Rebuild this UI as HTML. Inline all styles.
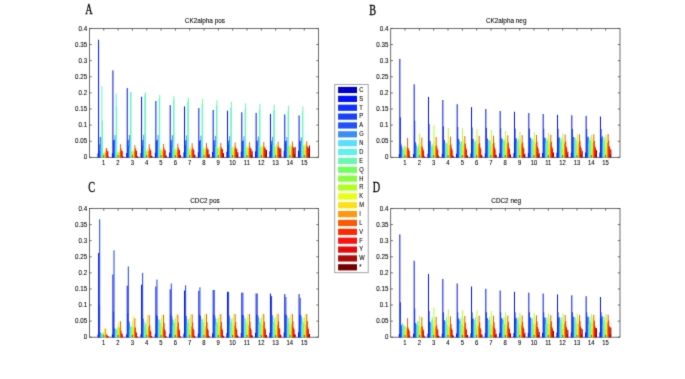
<!DOCTYPE html>
<html><head><meta charset="utf-8"><title>figure</title>
<style>
html,body{margin:0;padding:0;background:#fff;}
body{width:685px;height:379px;overflow:hidden;}
svg{display:block;}
text{font-family:"Liberation Sans",sans-serif;fill:#000000;stroke:#000000;stroke-width:0.08px;}
.ser{font-family:"Liberation Serif",serif;fill:#000;stroke:#000;stroke-width:0.35px;}
</style></head><body>
<svg width="685" height="379" viewBox="0 0 685 379">
<defs>
<filter id="jp" x="0" y="0" width="685" height="379" filterUnits="userSpaceOnUse" color-interpolation-filters="sRGB">
<feConvolveMatrix in="SourceGraphic" order="3" kernelMatrix="0.01440 0.09120 0.01440 0.09120 0.57760 0.09120 0.01440 0.09120 0.01440" divisor="1" edgeMode="duplicate" preserveAlpha="true" result="S0"/>
<feGaussianBlur in="S0" stdDeviation="0.9" result="B"/>
<feColorMatrix in="S0" type="matrix" values="0.299 0.587 0.114 0 0  0.299 0.587 0.114 0 0  0.299 0.587 0.114 0 0  0 0 0 1 0" result="Yg"/>
<feColorMatrix in="B" type="matrix" values="0.299 0.587 0.114 0 0  0.299 0.587 0.114 0 0  0.299 0.587 0.114 0 0  0 0 0 1 0" result="YB"/>
<feComposite in="B" in2="Yg" operator="arithmetic" k1="0" k2="0.5" k3="0.5" k4="0" result="T"/>
<feComposite in="T" in2="YB" operator="arithmetic" k1="0" k2="2" k3="-1" k4="0"/>
</filter>
</defs>
<g filter="url(#jp)">
<rect x="0" y="0" width="685" height="379" fill="#ffffff"/>

<g id="panelA">
<rect x="89.45" y="28.45" width="229.15" height="128.90" fill="none" stroke="#484848" stroke-width="0.8"/>
<rect x="97.54" y="153.48" width="1.000" height="3.97" fill="#0000C4"/>
<rect x="98.09" y="39.73" width="1.000" height="117.72" fill="#0010FF"/>
<rect x="98.63" y="144.46" width="1.000" height="12.99" fill="#1030FF"/>
<rect x="99.18" y="150.91" width="1.000" height="6.54" fill="#1840FF"/>
<rect x="99.73" y="137.05" width="1.000" height="20.40" fill="#2050FF"/>
<rect x="100.27" y="137.05" width="1.000" height="20.40" fill="#3C8CF8"/>
<rect x="100.82" y="147.68" width="1.000" height="9.77" fill="#58E0FF"/>
<rect x="101.36" y="86.20" width="1.000" height="71.25" fill="#60F0E8"/>
<rect x="101.91" y="120.29" width="1.000" height="37.16" fill="#68F8B0"/>
<rect x="102.45" y="153.48" width="1.000" height="3.97" fill="#70FF60"/>
<rect x="103.00" y="153.48" width="1.000" height="3.97" fill="#88FF40"/>
<rect x="103.54" y="152.84" width="1.000" height="4.61" fill="#B0FF20"/>
<rect x="104.09" y="151.55" width="1.000" height="5.90" fill="#E8FF10"/>
<rect x="104.64" y="152.84" width="1.000" height="4.61" fill="#FFE010"/>
<rect x="105.18" y="152.52" width="1.000" height="4.93" fill="#FF9810"/>
<rect x="105.73" y="148.00" width="1.000" height="9.45" fill="#FF5800"/>
<rect x="106.27" y="148.65" width="1.000" height="8.80" fill="#FF2800"/>
<rect x="106.82" y="151.23" width="1.000" height="6.22" fill="#FF1010"/>
<rect x="107.36" y="151.23" width="1.000" height="6.22" fill="#E80808"/>
<rect x="107.91" y="156.38" width="1.000" height="1.07" fill="#B00808"/>
<rect x="111.86" y="153.30" width="1.000" height="4.15" fill="#0000C4"/>
<rect x="112.41" y="70.34" width="1.000" height="87.11" fill="#0010FF"/>
<rect x="112.96" y="140.27" width="1.000" height="17.18" fill="#1030FF"/>
<rect x="113.50" y="146.07" width="1.000" height="11.38" fill="#1840FF"/>
<rect x="114.05" y="139.63" width="1.000" height="17.82" fill="#2050FF"/>
<rect x="114.59" y="135.11" width="1.000" height="22.34" fill="#3C8CF8"/>
<rect x="115.14" y="147.45" width="1.000" height="10.00" fill="#58E0FF"/>
<rect x="115.68" y="93.54" width="1.000" height="63.91" fill="#60F0E8"/>
<rect x="116.23" y="106.76" width="1.000" height="50.69" fill="#68F8B0"/>
<rect x="116.78" y="152.68" width="1.000" height="4.77" fill="#70FF60"/>
<rect x="117.32" y="153.16" width="1.000" height="4.29" fill="#88FF40"/>
<rect x="117.87" y="152.03" width="1.000" height="5.42" fill="#B0FF20"/>
<rect x="118.41" y="150.74" width="1.000" height="6.71" fill="#E8FF10"/>
<rect x="118.96" y="152.65" width="1.000" height="4.80" fill="#FFE010"/>
<rect x="119.50" y="152.06" width="1.000" height="5.39" fill="#FF9810"/>
<rect x="120.05" y="144.14" width="1.000" height="13.31" fill="#FF5800"/>
<rect x="120.59" y="148.47" width="1.000" height="8.98" fill="#FF2800"/>
<rect x="121.14" y="150.97" width="1.000" height="6.48" fill="#FF1010"/>
<rect x="121.69" y="150.97" width="1.000" height="6.48" fill="#E80808"/>
<rect x="122.23" y="156.22" width="1.000" height="1.23" fill="#B00808"/>
<rect x="122.78" y="156.89" width="1.000" height="0.56" fill="#780000"/>
<rect x="126.19" y="153.11" width="1.000" height="4.34" fill="#0000C4"/>
<rect x="126.73" y="88.07" width="1.000" height="69.38" fill="#0010FF"/>
<rect x="127.28" y="140.35" width="1.000" height="17.10" fill="#1030FF"/>
<rect x="127.82" y="145.90" width="1.000" height="11.55" fill="#1840FF"/>
<rect x="128.37" y="139.70" width="1.000" height="17.75" fill="#2050FF"/>
<rect x="128.91" y="134.95" width="1.000" height="22.50" fill="#3C8CF8"/>
<rect x="129.46" y="147.22" width="1.000" height="10.23" fill="#58E0FF"/>
<rect x="130.01" y="92.03" width="1.000" height="65.42" fill="#60F0E8"/>
<rect x="130.55" y="92.03" width="1.000" height="65.42" fill="#68F8B0"/>
<rect x="131.10" y="151.87" width="1.000" height="5.58" fill="#70FF60"/>
<rect x="131.64" y="152.84" width="1.000" height="4.61" fill="#88FF40"/>
<rect x="132.19" y="151.23" width="1.000" height="6.22" fill="#B0FF20"/>
<rect x="132.73" y="149.94" width="1.000" height="7.51" fill="#E8FF10"/>
<rect x="133.28" y="152.47" width="1.000" height="4.98" fill="#FFE010"/>
<rect x="133.83" y="151.60" width="1.000" height="5.85" fill="#FF9810"/>
<rect x="134.37" y="145.10" width="1.000" height="12.35" fill="#FF5800"/>
<rect x="134.92" y="148.28" width="1.000" height="9.17" fill="#FF2800"/>
<rect x="135.46" y="150.72" width="1.000" height="6.73" fill="#FF1010"/>
<rect x="136.01" y="150.72" width="1.000" height="6.73" fill="#E80808"/>
<rect x="136.55" y="156.06" width="1.000" height="1.39" fill="#B00808"/>
<rect x="137.10" y="156.43" width="1.000" height="1.02" fill="#780000"/>
<rect x="140.51" y="152.93" width="1.000" height="4.52" fill="#0000C4"/>
<rect x="141.05" y="96.77" width="1.000" height="60.68" fill="#0010FF"/>
<rect x="141.60" y="140.42" width="1.000" height="17.03" fill="#1030FF"/>
<rect x="142.15" y="145.72" width="1.000" height="11.73" fill="#1840FF"/>
<rect x="142.69" y="139.77" width="1.000" height="17.68" fill="#2050FF"/>
<rect x="143.24" y="134.79" width="1.000" height="22.66" fill="#3C8CF8"/>
<rect x="143.78" y="146.99" width="1.000" height="10.46" fill="#58E0FF"/>
<rect x="144.33" y="94.67" width="1.000" height="62.78" fill="#60F0E8"/>
<rect x="144.87" y="92.03" width="1.000" height="65.42" fill="#68F8B0"/>
<rect x="145.42" y="151.07" width="1.000" height="6.38" fill="#70FF60"/>
<rect x="145.96" y="152.52" width="1.000" height="4.93" fill="#88FF40"/>
<rect x="146.51" y="150.42" width="1.000" height="7.03" fill="#B0FF20"/>
<rect x="147.06" y="149.13" width="1.000" height="8.32" fill="#E8FF10"/>
<rect x="147.60" y="152.29" width="1.000" height="5.16" fill="#FFE010"/>
<rect x="148.15" y="151.14" width="1.000" height="6.31" fill="#FF9810"/>
<rect x="148.69" y="144.14" width="1.000" height="13.31" fill="#FF5800"/>
<rect x="149.24" y="148.10" width="1.000" height="9.35" fill="#FF2800"/>
<rect x="149.78" y="150.47" width="1.000" height="6.98" fill="#FF1010"/>
<rect x="150.33" y="150.47" width="1.000" height="6.98" fill="#E80808"/>
<rect x="150.88" y="155.90" width="1.000" height="1.55" fill="#B00808"/>
<rect x="151.42" y="155.97" width="1.000" height="1.48" fill="#780000"/>
<rect x="154.83" y="152.75" width="1.000" height="4.70" fill="#0000C4"/>
<rect x="155.38" y="100.96" width="1.000" height="56.49" fill="#0010FF"/>
<rect x="155.92" y="140.49" width="1.000" height="16.96" fill="#1030FF"/>
<rect x="156.47" y="145.55" width="1.000" height="11.90" fill="#1840FF"/>
<rect x="157.01" y="139.85" width="1.000" height="17.60" fill="#2050FF"/>
<rect x="157.56" y="135.01" width="1.000" height="22.44" fill="#3C8CF8"/>
<rect x="158.10" y="146.76" width="1.000" height="10.69" fill="#58E0FF"/>
<rect x="158.65" y="98.38" width="1.000" height="59.07" fill="#60F0E8"/>
<rect x="159.20" y="95.16" width="1.000" height="62.29" fill="#68F8B0"/>
<rect x="159.74" y="150.26" width="1.000" height="7.19" fill="#70FF60"/>
<rect x="160.29" y="152.19" width="1.000" height="5.26" fill="#88FF40"/>
<rect x="160.83" y="149.62" width="1.000" height="7.83" fill="#B0FF20"/>
<rect x="161.38" y="148.33" width="1.000" height="9.12" fill="#E8FF10"/>
<rect x="161.92" y="152.10" width="1.000" height="5.35" fill="#FFE010"/>
<rect x="162.47" y="150.67" width="1.000" height="6.78" fill="#FF9810"/>
<rect x="163.01" y="143.87" width="1.000" height="13.58" fill="#FF5800"/>
<rect x="163.56" y="147.91" width="1.000" height="9.54" fill="#FF2800"/>
<rect x="164.11" y="150.21" width="1.000" height="7.24" fill="#FF1010"/>
<rect x="164.65" y="150.21" width="1.000" height="7.24" fill="#E80808"/>
<rect x="165.20" y="155.74" width="1.000" height="1.71" fill="#B00808"/>
<rect x="165.74" y="155.51" width="1.000" height="1.94" fill="#780000"/>
<rect x="169.15" y="152.56" width="1.000" height="4.89" fill="#0000C4"/>
<rect x="169.70" y="105.15" width="1.000" height="52.30" fill="#0010FF"/>
<rect x="170.24" y="140.57" width="1.000" height="16.88" fill="#1030FF"/>
<rect x="170.79" y="145.38" width="1.000" height="12.07" fill="#1840FF"/>
<rect x="171.33" y="139.92" width="1.000" height="17.53" fill="#2050FF"/>
<rect x="171.88" y="135.23" width="1.000" height="22.22" fill="#3C8CF8"/>
<rect x="172.43" y="146.53" width="1.000" height="10.92" fill="#58E0FF"/>
<rect x="172.97" y="99.99" width="1.000" height="57.46" fill="#60F0E8"/>
<rect x="173.52" y="96.12" width="1.000" height="61.33" fill="#68F8B0"/>
<rect x="174.06" y="149.81" width="1.000" height="7.64" fill="#70FF60"/>
<rect x="174.61" y="152.07" width="1.000" height="5.38" fill="#88FF40"/>
<rect x="175.15" y="149.20" width="1.000" height="8.25" fill="#B0FF20"/>
<rect x="175.70" y="147.84" width="1.000" height="9.61" fill="#E8FF10"/>
<rect x="176.25" y="151.92" width="1.000" height="5.53" fill="#FFE010"/>
<rect x="176.79" y="150.21" width="1.000" height="7.24" fill="#FF9810"/>
<rect x="177.34" y="143.61" width="1.000" height="13.84" fill="#FF5800"/>
<rect x="177.88" y="147.73" width="1.000" height="9.72" fill="#FF2800"/>
<rect x="178.43" y="149.96" width="1.000" height="7.49" fill="#FF1010"/>
<rect x="178.97" y="149.96" width="1.000" height="7.49" fill="#E80808"/>
<rect x="179.52" y="155.58" width="1.000" height="1.87" fill="#B00808"/>
<rect x="180.06" y="155.05" width="1.000" height="2.40" fill="#780000"/>
<rect x="183.47" y="152.38" width="1.000" height="5.07" fill="#0000C4"/>
<rect x="184.02" y="106.43" width="1.000" height="51.02" fill="#0010FF"/>
<rect x="184.57" y="140.64" width="1.000" height="16.81" fill="#1030FF"/>
<rect x="185.11" y="145.20" width="1.000" height="12.25" fill="#1840FF"/>
<rect x="185.66" y="140.00" width="1.000" height="17.45" fill="#2050FF"/>
<rect x="186.20" y="135.45" width="1.000" height="22.00" fill="#3C8CF8"/>
<rect x="186.75" y="146.30" width="1.000" height="11.15" fill="#58E0FF"/>
<rect x="187.29" y="101.60" width="1.000" height="55.85" fill="#60F0E8"/>
<rect x="187.84" y="97.41" width="1.000" height="60.04" fill="#68F8B0"/>
<rect x="188.38" y="149.36" width="1.000" height="8.09" fill="#70FF60"/>
<rect x="188.93" y="151.94" width="1.000" height="5.51" fill="#88FF40"/>
<rect x="189.48" y="148.78" width="1.000" height="8.67" fill="#B0FF20"/>
<rect x="190.02" y="147.36" width="1.000" height="10.09" fill="#E8FF10"/>
<rect x="190.57" y="151.73" width="1.000" height="5.72" fill="#FFE010"/>
<rect x="191.11" y="149.75" width="1.000" height="7.70" fill="#FF9810"/>
<rect x="191.66" y="143.35" width="1.000" height="14.10" fill="#FF5800"/>
<rect x="192.20" y="147.54" width="1.000" height="9.91" fill="#FF2800"/>
<rect x="192.75" y="149.71" width="1.000" height="7.74" fill="#FF1010"/>
<rect x="193.30" y="149.71" width="1.000" height="7.74" fill="#E80808"/>
<rect x="193.84" y="155.42" width="1.000" height="2.03" fill="#B00808"/>
<rect x="194.39" y="154.59" width="1.000" height="2.86" fill="#780000"/>
<rect x="197.80" y="152.19" width="1.000" height="5.26" fill="#0000C4"/>
<rect x="198.34" y="108.05" width="1.000" height="49.40" fill="#0010FF"/>
<rect x="198.89" y="140.72" width="1.000" height="16.73" fill="#1030FF"/>
<rect x="199.43" y="145.03" width="1.000" height="12.42" fill="#1840FF"/>
<rect x="199.98" y="140.07" width="1.000" height="17.38" fill="#2050FF"/>
<rect x="200.52" y="135.67" width="1.000" height="21.78" fill="#3C8CF8"/>
<rect x="201.07" y="146.07" width="1.000" height="11.38" fill="#58E0FF"/>
<rect x="201.62" y="103.86" width="1.000" height="53.59" fill="#60F0E8"/>
<rect x="202.16" y="98.86" width="1.000" height="58.59" fill="#68F8B0"/>
<rect x="202.71" y="148.91" width="1.000" height="8.54" fill="#70FF60"/>
<rect x="203.25" y="151.81" width="1.000" height="5.64" fill="#88FF40"/>
<rect x="203.80" y="148.36" width="1.000" height="9.09" fill="#B0FF20"/>
<rect x="204.34" y="146.88" width="1.000" height="10.57" fill="#E8FF10"/>
<rect x="204.89" y="151.55" width="1.000" height="5.90" fill="#FFE010"/>
<rect x="205.43" y="149.29" width="1.000" height="8.16" fill="#FF9810"/>
<rect x="205.98" y="143.08" width="1.000" height="14.37" fill="#FF5800"/>
<rect x="206.53" y="147.36" width="1.000" height="10.09" fill="#FF2800"/>
<rect x="207.07" y="149.45" width="1.000" height="8.00" fill="#FF1010"/>
<rect x="207.62" y="149.45" width="1.000" height="8.00" fill="#E80808"/>
<rect x="208.16" y="155.26" width="1.000" height="2.19" fill="#B00808"/>
<rect x="208.71" y="154.13" width="1.000" height="3.32" fill="#780000"/>
<rect x="212.12" y="152.01" width="1.000" height="5.44" fill="#0000C4"/>
<rect x="212.66" y="109.98" width="1.000" height="47.47" fill="#0010FF"/>
<rect x="213.21" y="140.79" width="1.000" height="16.66" fill="#1030FF"/>
<rect x="213.75" y="144.86" width="1.000" height="12.59" fill="#1840FF"/>
<rect x="214.30" y="140.15" width="1.000" height="17.30" fill="#2050FF"/>
<rect x="214.85" y="135.89" width="1.000" height="21.56" fill="#3C8CF8"/>
<rect x="215.39" y="145.84" width="1.000" height="11.61" fill="#58E0FF"/>
<rect x="215.94" y="105.47" width="1.000" height="51.98" fill="#60F0E8"/>
<rect x="216.48" y="100.31" width="1.000" height="57.14" fill="#68F8B0"/>
<rect x="217.03" y="148.46" width="1.000" height="8.99" fill="#70FF60"/>
<rect x="217.57" y="151.68" width="1.000" height="5.77" fill="#88FF40"/>
<rect x="218.12" y="147.94" width="1.000" height="9.51" fill="#B0FF20"/>
<rect x="218.67" y="146.39" width="1.000" height="11.06" fill="#E8FF10"/>
<rect x="219.21" y="151.37" width="1.000" height="6.08" fill="#FFE010"/>
<rect x="219.76" y="148.83" width="1.000" height="8.62" fill="#FF9810"/>
<rect x="220.30" y="142.82" width="1.000" height="14.63" fill="#FF5800"/>
<rect x="220.85" y="147.18" width="1.000" height="10.27" fill="#FF2800"/>
<rect x="221.39" y="149.20" width="1.000" height="8.25" fill="#FF1010"/>
<rect x="221.94" y="149.20" width="1.000" height="8.25" fill="#E80808"/>
<rect x="222.48" y="155.09" width="1.000" height="2.36" fill="#B00808"/>
<rect x="223.03" y="153.12" width="1.000" height="4.33" fill="#780000"/>
<rect x="226.44" y="151.83" width="1.000" height="5.62" fill="#0000C4"/>
<rect x="226.99" y="110.62" width="1.000" height="46.83" fill="#0010FF"/>
<rect x="227.53" y="140.87" width="1.000" height="16.58" fill="#1030FF"/>
<rect x="228.08" y="144.68" width="1.000" height="12.77" fill="#1840FF"/>
<rect x="228.62" y="140.22" width="1.000" height="17.23" fill="#2050FF"/>
<rect x="229.17" y="136.11" width="1.000" height="21.34" fill="#3C8CF8"/>
<rect x="229.71" y="145.61" width="1.000" height="11.84" fill="#58E0FF"/>
<rect x="230.26" y="107.72" width="1.000" height="49.73" fill="#60F0E8"/>
<rect x="230.80" y="101.67" width="1.000" height="55.78" fill="#68F8B0"/>
<rect x="231.35" y="148.00" width="1.000" height="9.45" fill="#70FF60"/>
<rect x="231.90" y="151.55" width="1.000" height="5.90" fill="#88FF40"/>
<rect x="232.44" y="147.52" width="1.000" height="9.93" fill="#B0FF20"/>
<rect x="232.99" y="145.91" width="1.000" height="11.54" fill="#E8FF10"/>
<rect x="233.53" y="151.18" width="1.000" height="6.27" fill="#FFE010"/>
<rect x="234.08" y="148.37" width="1.000" height="9.08" fill="#FF9810"/>
<rect x="234.62" y="142.56" width="1.000" height="14.89" fill="#FF5800"/>
<rect x="235.17" y="146.99" width="1.000" height="10.46" fill="#FF2800"/>
<rect x="235.72" y="148.95" width="1.000" height="8.50" fill="#FF1010"/>
<rect x="236.26" y="148.95" width="1.000" height="8.50" fill="#E80808"/>
<rect x="236.81" y="154.93" width="1.000" height="2.52" fill="#B00808"/>
<rect x="237.35" y="152.11" width="1.000" height="5.34" fill="#780000"/>
<rect x="240.76" y="151.64" width="1.000" height="5.81" fill="#0000C4"/>
<rect x="241.31" y="112.23" width="1.000" height="45.22" fill="#0010FF"/>
<rect x="241.85" y="140.94" width="1.000" height="16.51" fill="#1030FF"/>
<rect x="242.40" y="144.51" width="1.000" height="12.94" fill="#1840FF"/>
<rect x="242.94" y="140.30" width="1.000" height="17.15" fill="#2050FF"/>
<rect x="243.49" y="136.33" width="1.000" height="21.12" fill="#3C8CF8"/>
<rect x="244.04" y="145.38" width="1.000" height="12.07" fill="#58E0FF"/>
<rect x="244.58" y="109.01" width="1.000" height="48.44" fill="#60F0E8"/>
<rect x="245.13" y="103.41" width="1.000" height="54.04" fill="#68F8B0"/>
<rect x="245.67" y="147.55" width="1.000" height="9.90" fill="#70FF60"/>
<rect x="246.22" y="151.42" width="1.000" height="6.03" fill="#88FF40"/>
<rect x="246.76" y="147.10" width="1.000" height="10.35" fill="#B0FF20"/>
<rect x="247.31" y="145.43" width="1.000" height="12.02" fill="#E8FF10"/>
<rect x="247.85" y="151.00" width="1.000" height="6.45" fill="#FFE010"/>
<rect x="248.40" y="147.91" width="1.000" height="9.54" fill="#FF9810"/>
<rect x="248.95" y="142.29" width="1.000" height="15.16" fill="#FF5800"/>
<rect x="249.49" y="146.81" width="1.000" height="10.64" fill="#FF2800"/>
<rect x="250.04" y="148.70" width="1.000" height="8.75" fill="#FF1010"/>
<rect x="250.58" y="148.70" width="1.000" height="8.75" fill="#E80808"/>
<rect x="251.13" y="154.77" width="1.000" height="2.68" fill="#B00808"/>
<rect x="251.67" y="151.11" width="1.000" height="6.34" fill="#780000"/>
<rect x="255.08" y="151.46" width="1.000" height="5.99" fill="#0000C4"/>
<rect x="255.63" y="112.88" width="1.000" height="44.57" fill="#0010FF"/>
<rect x="256.17" y="141.01" width="1.000" height="16.44" fill="#1030FF"/>
<rect x="256.72" y="144.34" width="1.000" height="13.11" fill="#1840FF"/>
<rect x="257.27" y="140.37" width="1.000" height="17.08" fill="#2050FF"/>
<rect x="257.81" y="136.55" width="1.000" height="20.90" fill="#3C8CF8"/>
<rect x="258.36" y="145.15" width="1.000" height="12.30" fill="#58E0FF"/>
<rect x="258.90" y="109.66" width="1.000" height="47.79" fill="#60F0E8"/>
<rect x="259.45" y="103.76" width="1.000" height="53.69" fill="#68F8B0"/>
<rect x="259.99" y="147.10" width="1.000" height="10.35" fill="#70FF60"/>
<rect x="260.54" y="151.29" width="1.000" height="6.16" fill="#88FF40"/>
<rect x="261.09" y="146.68" width="1.000" height="10.77" fill="#B0FF20"/>
<rect x="261.63" y="144.94" width="1.000" height="12.51" fill="#E8FF10"/>
<rect x="262.18" y="150.81" width="1.000" height="6.64" fill="#FFE010"/>
<rect x="262.72" y="147.45" width="1.000" height="10.00" fill="#FF9810"/>
<rect x="263.27" y="142.03" width="1.000" height="15.42" fill="#FF5800"/>
<rect x="263.81" y="146.62" width="1.000" height="10.83" fill="#FF2800"/>
<rect x="264.36" y="148.44" width="1.000" height="9.01" fill="#FF1010"/>
<rect x="264.90" y="148.44" width="1.000" height="9.01" fill="#E80808"/>
<rect x="265.45" y="154.61" width="1.000" height="2.84" fill="#B00808"/>
<rect x="266.00" y="150.10" width="1.000" height="7.35" fill="#780000"/>
<rect x="269.41" y="151.27" width="1.000" height="6.18" fill="#0000C4"/>
<rect x="269.95" y="113.85" width="1.000" height="43.60" fill="#0010FF"/>
<rect x="270.50" y="141.09" width="1.000" height="16.36" fill="#1030FF"/>
<rect x="271.04" y="144.16" width="1.000" height="13.29" fill="#1840FF"/>
<rect x="271.59" y="140.44" width="1.000" height="17.01" fill="#2050FF"/>
<rect x="272.13" y="136.77" width="1.000" height="20.68" fill="#3C8CF8"/>
<rect x="272.68" y="144.92" width="1.000" height="12.53" fill="#58E0FF"/>
<rect x="273.22" y="110.30" width="1.000" height="47.15" fill="#60F0E8"/>
<rect x="273.77" y="104.63" width="1.000" height="52.82" fill="#68F8B0"/>
<rect x="274.32" y="146.65" width="1.000" height="10.80" fill="#70FF60"/>
<rect x="274.86" y="151.16" width="1.000" height="6.29" fill="#88FF40"/>
<rect x="275.41" y="146.26" width="1.000" height="11.19" fill="#B0FF20"/>
<rect x="275.95" y="144.46" width="1.000" height="12.99" fill="#E8FF10"/>
<rect x="276.50" y="150.63" width="1.000" height="6.82" fill="#FFE010"/>
<rect x="277.04" y="146.99" width="1.000" height="10.46" fill="#FF9810"/>
<rect x="277.59" y="141.76" width="1.000" height="15.69" fill="#FF5800"/>
<rect x="278.14" y="146.44" width="1.000" height="11.01" fill="#FF2800"/>
<rect x="278.68" y="148.19" width="1.000" height="9.26" fill="#FF1010"/>
<rect x="279.23" y="148.19" width="1.000" height="9.26" fill="#E80808"/>
<rect x="279.77" y="154.45" width="1.000" height="3.00" fill="#B00808"/>
<rect x="280.32" y="148.54" width="1.000" height="8.91" fill="#780000"/>
<rect x="283.73" y="151.09" width="1.000" height="6.36" fill="#0000C4"/>
<rect x="284.27" y="114.49" width="1.000" height="42.96" fill="#0010FF"/>
<rect x="284.82" y="141.16" width="1.000" height="16.29" fill="#1030FF"/>
<rect x="285.36" y="143.99" width="1.000" height="13.46" fill="#1840FF"/>
<rect x="285.91" y="140.52" width="1.000" height="16.93" fill="#2050FF"/>
<rect x="286.46" y="136.99" width="1.000" height="20.46" fill="#3C8CF8"/>
<rect x="287.00" y="144.69" width="1.000" height="12.76" fill="#58E0FF"/>
<rect x="287.55" y="110.95" width="1.000" height="46.50" fill="#60F0E8"/>
<rect x="288.09" y="105.50" width="1.000" height="51.95" fill="#68F8B0"/>
<rect x="288.64" y="146.20" width="1.000" height="11.25" fill="#70FF60"/>
<rect x="289.18" y="151.03" width="1.000" height="6.42" fill="#88FF40"/>
<rect x="289.73" y="145.85" width="1.000" height="11.60" fill="#B0FF20"/>
<rect x="290.27" y="143.98" width="1.000" height="13.47" fill="#E8FF10"/>
<rect x="290.82" y="150.44" width="1.000" height="7.01" fill="#FFE010"/>
<rect x="291.37" y="146.53" width="1.000" height="10.92" fill="#FF9810"/>
<rect x="291.91" y="141.50" width="1.000" height="15.95" fill="#FF5800"/>
<rect x="292.46" y="146.26" width="1.000" height="11.19" fill="#FF2800"/>
<rect x="293.00" y="147.94" width="1.000" height="9.51" fill="#FF1010"/>
<rect x="293.55" y="147.94" width="1.000" height="9.51" fill="#E80808"/>
<rect x="294.09" y="154.29" width="1.000" height="3.16" fill="#B00808"/>
<rect x="294.64" y="146.98" width="1.000" height="10.47" fill="#780000"/>
<rect x="298.05" y="150.91" width="1.000" height="6.54" fill="#0000C4"/>
<rect x="298.59" y="115.46" width="1.000" height="41.99" fill="#0010FF"/>
<rect x="299.14" y="141.24" width="1.000" height="16.21" fill="#1030FF"/>
<rect x="299.69" y="143.82" width="1.000" height="13.63" fill="#1840FF"/>
<rect x="300.23" y="140.59" width="1.000" height="16.86" fill="#2050FF"/>
<rect x="300.78" y="137.21" width="1.000" height="20.24" fill="#3C8CF8"/>
<rect x="301.32" y="144.46" width="1.000" height="12.99" fill="#58E0FF"/>
<rect x="301.87" y="111.59" width="1.000" height="45.86" fill="#60F0E8"/>
<rect x="302.41" y="106.43" width="1.000" height="51.02" fill="#68F8B0"/>
<rect x="302.96" y="145.75" width="1.000" height="11.70" fill="#70FF60"/>
<rect x="303.51" y="150.91" width="1.000" height="6.54" fill="#88FF40"/>
<rect x="304.05" y="145.43" width="1.000" height="12.02" fill="#B0FF20"/>
<rect x="304.60" y="143.49" width="1.000" height="13.96" fill="#E8FF10"/>
<rect x="305.14" y="150.26" width="1.000" height="7.19" fill="#FFE010"/>
<rect x="305.69" y="146.07" width="1.000" height="11.38" fill="#FF9810"/>
<rect x="306.23" y="141.24" width="1.000" height="16.21" fill="#FF5800"/>
<rect x="306.78" y="146.07" width="1.000" height="11.38" fill="#FF2800"/>
<rect x="307.32" y="147.68" width="1.000" height="9.77" fill="#FF1010"/>
<rect x="307.87" y="147.68" width="1.000" height="9.77" fill="#E80808"/>
<rect x="308.42" y="154.13" width="1.000" height="3.32" fill="#B00808"/>
<rect x="308.96" y="145.43" width="1.000" height="12.02" fill="#780000"/>
<path d="M103.77 157.35v-2.2M103.77 28.45v2.2M118.09 157.35v-2.2M118.09 28.45v2.2M132.42 157.35v-2.2M132.42 28.45v2.2M146.74 157.35v-2.2M146.74 28.45v2.2M161.06 157.35v-2.2M161.06 28.45v2.2M175.38 157.35v-2.2M175.38 28.45v2.2M189.70 157.35v-2.2M189.70 28.45v2.2M204.03 157.35v-2.2M204.03 28.45v2.2M218.35 157.35v-2.2M218.35 28.45v2.2M232.67 157.35v-2.2M232.67 28.45v2.2M246.99 157.35v-2.2M246.99 28.45v2.2M261.31 157.35v-2.2M261.31 28.45v2.2M275.63 157.35v-2.2M275.63 28.45v2.2M289.96 157.35v-2.2M289.96 28.45v2.2M304.28 157.35v-2.2M304.28 28.45v2.2M89.45 157.35h2.2M318.60 157.35h-2.2M89.45 141.24h2.2M318.60 141.24h-2.2M89.45 125.12h2.2M318.60 125.12h-2.2M89.45 109.01h2.2M318.60 109.01h-2.2M89.45 92.90h2.2M318.60 92.90h-2.2M89.45 76.79h2.2M318.60 76.79h-2.2M89.45 60.67h2.2M318.60 60.67h-2.2M89.45 44.56h2.2M318.60 44.56h-2.2M89.45 28.45h2.2M318.60 28.45h-2.2" stroke="#484848" stroke-width="0.8" fill="none"/>
<text transform="translate(87.15 159.40) scale(0.9 1)" font-size="6.9" text-anchor="end">0</text>
<text transform="translate(87.15 143.29) scale(0.9 1)" font-size="6.9" text-anchor="end">0.05</text>
<text transform="translate(87.15 127.17) scale(0.9 1)" font-size="6.9" text-anchor="end">0.1</text>
<text transform="translate(87.15 111.06) scale(0.9 1)" font-size="6.9" text-anchor="end">0.15</text>
<text transform="translate(87.15 94.95) scale(0.9 1)" font-size="6.9" text-anchor="end">0.2</text>
<text transform="translate(87.15 78.84) scale(0.9 1)" font-size="6.9" text-anchor="end">0.25</text>
<text transform="translate(87.15 62.72) scale(0.9 1)" font-size="6.9" text-anchor="end">0.3</text>
<text transform="translate(87.15 46.61) scale(0.9 1)" font-size="6.9" text-anchor="end">0.35</text>
<text transform="translate(87.15 30.50) scale(0.9 1)" font-size="6.9" text-anchor="end">0.4</text>
<text transform="translate(103.67 164.65) scale(0.88 1)" font-size="6.7" text-anchor="middle">1</text>
<text transform="translate(117.99 164.65) scale(0.88 1)" font-size="6.7" text-anchor="middle">2</text>
<text transform="translate(132.32 164.65) scale(0.88 1)" font-size="6.7" text-anchor="middle">3</text>
<text transform="translate(146.64 164.65) scale(0.88 1)" font-size="6.7" text-anchor="middle">4</text>
<text transform="translate(160.96 164.65) scale(0.88 1)" font-size="6.7" text-anchor="middle">5</text>
<text transform="translate(175.28 164.65) scale(0.88 1)" font-size="6.7" text-anchor="middle">6</text>
<text transform="translate(189.60 164.65) scale(0.88 1)" font-size="6.7" text-anchor="middle">7</text>
<text transform="translate(203.93 164.65) scale(0.88 1)" font-size="6.7" text-anchor="middle">8</text>
<text transform="translate(218.25 164.65) scale(0.88 1)" font-size="6.7" text-anchor="middle">9</text>
<text transform="translate(232.57 164.65) scale(0.88 1)" font-size="6.7" text-anchor="middle">10</text>
<text transform="translate(246.89 164.65) scale(0.88 1)" font-size="6.7" text-anchor="middle">11</text>
<text transform="translate(261.21 164.65) scale(0.88 1)" font-size="6.7" text-anchor="middle">12</text>
<text transform="translate(275.53 164.65) scale(0.88 1)" font-size="6.7" text-anchor="middle">13</text>
<text transform="translate(289.86 164.65) scale(0.88 1)" font-size="6.7" text-anchor="middle">14</text>
<text transform="translate(304.18 164.65) scale(0.88 1)" font-size="6.7" text-anchor="middle">15</text>
<text x="204.9" y="22.60" font-size="6.4" text-anchor="middle">CK2alpha pos</text>
<text class="ser" transform="translate(85.2 14.4) scale(0.70 1)" font-size="14.6">A</text>
</g>
<g id="panelB">
<rect x="390.70" y="28.45" width="229.30" height="128.90" fill="none" stroke="#484848" stroke-width="0.8"/>
<rect x="398.80" y="154.13" width="1.000" height="3.32" fill="#0000C4"/>
<rect x="399.34" y="58.87" width="1.000" height="98.58" fill="#0010FF"/>
<rect x="399.89" y="117.39" width="1.000" height="40.06" fill="#1030FF"/>
<rect x="400.44" y="143.82" width="1.000" height="13.63" fill="#1840FF"/>
<rect x="400.98" y="146.07" width="1.000" height="11.38" fill="#2050FF"/>
<rect x="401.53" y="147.68" width="1.000" height="9.77" fill="#3C8CF8"/>
<rect x="402.07" y="149.62" width="1.000" height="7.83" fill="#58E0FF"/>
<rect x="402.62" y="149.62" width="1.000" height="7.83" fill="#60F0E8"/>
<rect x="403.17" y="149.62" width="1.000" height="7.83" fill="#68F8B0"/>
<rect x="403.71" y="145.75" width="1.000" height="11.70" fill="#70FF60"/>
<rect x="404.26" y="147.68" width="1.000" height="9.77" fill="#88FF40"/>
<rect x="404.80" y="146.39" width="1.000" height="11.06" fill="#B0FF20"/>
<rect x="405.35" y="147.68" width="1.000" height="9.77" fill="#E8FF10"/>
<rect x="405.90" y="150.91" width="1.000" height="6.54" fill="#FFE010"/>
<rect x="406.44" y="147.68" width="1.000" height="9.77" fill="#FF9810"/>
<rect x="406.99" y="138.01" width="1.000" height="19.44" fill="#FF5800"/>
<rect x="407.53" y="147.68" width="1.000" height="9.77" fill="#FF2800"/>
<rect x="408.08" y="149.29" width="1.000" height="8.16" fill="#FF1010"/>
<rect x="408.63" y="150.91" width="1.000" height="6.54" fill="#E80808"/>
<rect x="409.17" y="155.74" width="1.000" height="1.71" fill="#B00808"/>
<rect x="413.13" y="154.01" width="1.000" height="3.44" fill="#0000C4"/>
<rect x="413.68" y="84.30" width="1.000" height="73.15" fill="#0010FF"/>
<rect x="414.22" y="120.61" width="1.000" height="36.84" fill="#1030FF"/>
<rect x="414.77" y="142.20" width="1.000" height="15.25" fill="#1840FF"/>
<rect x="415.31" y="143.65" width="1.000" height="13.80" fill="#2050FF"/>
<rect x="415.86" y="146.07" width="1.000" height="11.38" fill="#3C8CF8"/>
<rect x="416.41" y="148.33" width="1.000" height="9.12" fill="#58E0FF"/>
<rect x="416.95" y="148.17" width="1.000" height="9.28" fill="#60F0E8"/>
<rect x="417.50" y="147.68" width="1.000" height="9.77" fill="#68F8B0"/>
<rect x="418.04" y="144.62" width="1.000" height="12.83" fill="#70FF60"/>
<rect x="418.59" y="147.73" width="1.000" height="9.72" fill="#88FF40"/>
<rect x="419.14" y="133.83" width="1.000" height="23.62" fill="#B0FF20"/>
<rect x="419.68" y="142.85" width="1.000" height="14.60" fill="#E8FF10"/>
<rect x="420.23" y="150.79" width="1.000" height="6.66" fill="#FFE010"/>
<rect x="420.77" y="146.88" width="1.000" height="10.57" fill="#FF9810"/>
<rect x="421.32" y="137.53" width="1.000" height="19.92" fill="#FF5800"/>
<rect x="421.87" y="146.64" width="1.000" height="10.81" fill="#FF2800"/>
<rect x="422.41" y="148.89" width="1.000" height="8.56" fill="#FF1010"/>
<rect x="422.96" y="150.58" width="1.000" height="6.87" fill="#E80808"/>
<rect x="423.50" y="155.62" width="1.000" height="1.83" fill="#B00808"/>
<rect x="424.05" y="156.95" width="1.000" height="0.50" fill="#780000"/>
<rect x="427.46" y="153.90" width="1.000" height="3.55" fill="#0000C4"/>
<rect x="428.01" y="96.86" width="1.000" height="60.59" fill="#0010FF"/>
<rect x="428.55" y="124.16" width="1.000" height="33.29" fill="#1030FF"/>
<rect x="429.10" y="140.59" width="1.000" height="16.86" fill="#1840FF"/>
<rect x="429.65" y="141.24" width="1.000" height="16.21" fill="#2050FF"/>
<rect x="430.19" y="144.46" width="1.000" height="12.99" fill="#3C8CF8"/>
<rect x="430.74" y="147.04" width="1.000" height="10.41" fill="#58E0FF"/>
<rect x="431.28" y="146.72" width="1.000" height="10.73" fill="#60F0E8"/>
<rect x="431.83" y="145.75" width="1.000" height="11.70" fill="#68F8B0"/>
<rect x="432.37" y="143.49" width="1.000" height="13.96" fill="#70FF60"/>
<rect x="432.92" y="147.77" width="1.000" height="9.68" fill="#88FF40"/>
<rect x="433.47" y="125.25" width="1.000" height="32.20" fill="#B0FF20"/>
<rect x="434.01" y="141.24" width="1.000" height="16.21" fill="#E8FF10"/>
<rect x="434.56" y="150.67" width="1.000" height="6.78" fill="#FFE010"/>
<rect x="435.10" y="146.07" width="1.000" height="11.38" fill="#FF9810"/>
<rect x="435.65" y="137.05" width="1.000" height="20.40" fill="#FF5800"/>
<rect x="436.20" y="145.59" width="1.000" height="11.86" fill="#FF2800"/>
<rect x="436.74" y="148.49" width="1.000" height="8.96" fill="#FF1010"/>
<rect x="437.29" y="150.26" width="1.000" height="7.19" fill="#E80808"/>
<rect x="437.83" y="155.51" width="1.000" height="1.94" fill="#B00808"/>
<rect x="438.38" y="156.54" width="1.000" height="0.91" fill="#780000"/>
<rect x="441.79" y="153.78" width="1.000" height="3.67" fill="#0000C4"/>
<rect x="442.34" y="99.99" width="1.000" height="57.46" fill="#0010FF"/>
<rect x="442.88" y="126.41" width="1.000" height="31.04" fill="#1030FF"/>
<rect x="443.43" y="139.87" width="1.000" height="17.58" fill="#1840FF"/>
<rect x="443.98" y="140.19" width="1.000" height="17.26" fill="#2050FF"/>
<rect x="444.52" y="142.85" width="1.000" height="14.60" fill="#3C8CF8"/>
<rect x="445.07" y="145.75" width="1.000" height="11.70" fill="#58E0FF"/>
<rect x="445.61" y="145.27" width="1.000" height="12.18" fill="#60F0E8"/>
<rect x="446.16" y="143.82" width="1.000" height="13.63" fill="#68F8B0"/>
<rect x="446.71" y="142.37" width="1.000" height="15.08" fill="#70FF60"/>
<rect x="447.25" y="147.82" width="1.000" height="9.63" fill="#88FF40"/>
<rect x="447.80" y="128.03" width="1.000" height="29.42" fill="#B0FF20"/>
<rect x="448.34" y="140.75" width="1.000" height="16.70" fill="#E8FF10"/>
<rect x="448.89" y="150.56" width="1.000" height="6.89" fill="#FFE010"/>
<rect x="449.44" y="145.27" width="1.000" height="12.18" fill="#FF9810"/>
<rect x="449.98" y="136.56" width="1.000" height="20.89" fill="#FF5800"/>
<rect x="450.53" y="144.54" width="1.000" height="12.91" fill="#FF2800"/>
<rect x="451.07" y="148.09" width="1.000" height="9.36" fill="#FF1010"/>
<rect x="451.62" y="149.94" width="1.000" height="7.51" fill="#E80808"/>
<rect x="452.17" y="155.39" width="1.000" height="2.06" fill="#B00808"/>
<rect x="452.71" y="156.14" width="1.000" height="1.31" fill="#780000"/>
<rect x="456.12" y="153.67" width="1.000" height="3.78" fill="#0000C4"/>
<rect x="456.67" y="104.18" width="1.000" height="53.27" fill="#0010FF"/>
<rect x="457.22" y="127.06" width="1.000" height="30.39" fill="#1030FF"/>
<rect x="457.76" y="139.14" width="1.000" height="18.31" fill="#1840FF"/>
<rect x="458.31" y="139.14" width="1.000" height="18.31" fill="#2050FF"/>
<rect x="458.85" y="141.24" width="1.000" height="16.21" fill="#3C8CF8"/>
<rect x="459.40" y="144.46" width="1.000" height="12.99" fill="#58E0FF"/>
<rect x="459.95" y="143.82" width="1.000" height="13.63" fill="#60F0E8"/>
<rect x="460.49" y="141.88" width="1.000" height="15.57" fill="#68F8B0"/>
<rect x="461.04" y="141.24" width="1.000" height="16.21" fill="#70FF60"/>
<rect x="461.58" y="147.87" width="1.000" height="9.58" fill="#88FF40"/>
<rect x="462.13" y="128.03" width="1.000" height="29.42" fill="#B0FF20"/>
<rect x="462.68" y="140.27" width="1.000" height="17.18" fill="#E8FF10"/>
<rect x="463.22" y="150.44" width="1.000" height="7.01" fill="#FFE010"/>
<rect x="463.77" y="144.46" width="1.000" height="12.99" fill="#FF9810"/>
<rect x="464.31" y="136.08" width="1.000" height="21.37" fill="#FF5800"/>
<rect x="464.86" y="143.49" width="1.000" height="13.96" fill="#FF2800"/>
<rect x="465.40" y="147.68" width="1.000" height="9.77" fill="#FF1010"/>
<rect x="465.95" y="149.62" width="1.000" height="7.83" fill="#E80808"/>
<rect x="466.50" y="155.28" width="1.000" height="2.17" fill="#B00808"/>
<rect x="467.04" y="155.74" width="1.000" height="1.71" fill="#780000"/>
<rect x="470.45" y="153.55" width="1.000" height="3.90" fill="#0000C4"/>
<rect x="471.00" y="107.08" width="1.000" height="50.37" fill="#0010FF"/>
<rect x="471.55" y="127.49" width="1.000" height="29.96" fill="#1030FF"/>
<rect x="472.09" y="139.03" width="1.000" height="18.42" fill="#1840FF"/>
<rect x="472.64" y="138.87" width="1.000" height="18.58" fill="#2050FF"/>
<rect x="473.18" y="140.75" width="1.000" height="16.70" fill="#3C8CF8"/>
<rect x="473.73" y="143.92" width="1.000" height="13.53" fill="#58E0FF"/>
<rect x="474.28" y="142.96" width="1.000" height="14.49" fill="#60F0E8"/>
<rect x="474.82" y="140.92" width="1.000" height="16.53" fill="#68F8B0"/>
<rect x="475.37" y="141.17" width="1.000" height="16.28" fill="#70FF60"/>
<rect x="475.91" y="147.91" width="1.000" height="9.54" fill="#88FF40"/>
<rect x="476.46" y="128.99" width="1.000" height="28.46" fill="#B0FF20"/>
<rect x="477.01" y="140.05" width="1.000" height="17.40" fill="#E8FF10"/>
<rect x="477.55" y="150.33" width="1.000" height="7.12" fill="#FFE010"/>
<rect x="478.10" y="144.30" width="1.000" height="13.15" fill="#FF9810"/>
<rect x="478.64" y="135.84" width="1.000" height="21.61" fill="#FF5800"/>
<rect x="479.19" y="143.20" width="1.000" height="14.25" fill="#FF2800"/>
<rect x="479.74" y="147.52" width="1.000" height="9.93" fill="#FF1010"/>
<rect x="480.28" y="149.42" width="1.000" height="8.03" fill="#E80808"/>
<rect x="480.83" y="155.16" width="1.000" height="2.29" fill="#B00808"/>
<rect x="481.37" y="155.26" width="1.000" height="2.19" fill="#780000"/>
<rect x="484.79" y="153.44" width="1.000" height="4.01" fill="#0000C4"/>
<rect x="485.33" y="109.01" width="1.000" height="48.44" fill="#0010FF"/>
<rect x="485.88" y="127.92" width="1.000" height="29.53" fill="#1030FF"/>
<rect x="486.42" y="138.92" width="1.000" height="18.53" fill="#1840FF"/>
<rect x="486.97" y="138.60" width="1.000" height="18.85" fill="#2050FF"/>
<rect x="487.52" y="140.27" width="1.000" height="17.18" fill="#3C8CF8"/>
<rect x="488.06" y="143.39" width="1.000" height="14.06" fill="#58E0FF"/>
<rect x="488.61" y="142.10" width="1.000" height="15.35" fill="#60F0E8"/>
<rect x="489.15" y="139.95" width="1.000" height="17.50" fill="#68F8B0"/>
<rect x="489.70" y="141.11" width="1.000" height="16.34" fill="#70FF60"/>
<rect x="490.25" y="147.96" width="1.000" height="9.49" fill="#88FF40"/>
<rect x="490.79" y="129.96" width="1.000" height="27.49" fill="#B0FF20"/>
<rect x="491.34" y="139.82" width="1.000" height="17.63" fill="#E8FF10"/>
<rect x="491.88" y="150.21" width="1.000" height="7.24" fill="#FFE010"/>
<rect x="492.43" y="144.14" width="1.000" height="13.31" fill="#FF9810"/>
<rect x="492.98" y="135.60" width="1.000" height="21.85" fill="#FF5800"/>
<rect x="493.52" y="142.91" width="1.000" height="14.54" fill="#FF2800"/>
<rect x="494.07" y="147.36" width="1.000" height="10.09" fill="#FF1010"/>
<rect x="494.61" y="149.23" width="1.000" height="8.22" fill="#E80808"/>
<rect x="495.16" y="155.05" width="1.000" height="2.40" fill="#B00808"/>
<rect x="495.71" y="154.77" width="1.000" height="2.68" fill="#780000"/>
<rect x="499.12" y="153.32" width="1.000" height="4.13" fill="#0000C4"/>
<rect x="499.66" y="110.95" width="1.000" height="46.50" fill="#0010FF"/>
<rect x="500.21" y="128.35" width="1.000" height="29.10" fill="#1030FF"/>
<rect x="500.76" y="138.80" width="1.000" height="18.65" fill="#1840FF"/>
<rect x="501.30" y="138.32" width="1.000" height="19.13" fill="#2050FF"/>
<rect x="501.85" y="139.79" width="1.000" height="17.66" fill="#3C8CF8"/>
<rect x="502.39" y="142.85" width="1.000" height="14.60" fill="#58E0FF"/>
<rect x="502.94" y="141.24" width="1.000" height="16.21" fill="#60F0E8"/>
<rect x="503.49" y="138.98" width="1.000" height="18.47" fill="#68F8B0"/>
<rect x="504.03" y="141.04" width="1.000" height="16.41" fill="#70FF60"/>
<rect x="504.58" y="148.00" width="1.000" height="9.45" fill="#88FF40"/>
<rect x="505.12" y="130.93" width="1.000" height="26.52" fill="#B0FF20"/>
<rect x="505.67" y="139.59" width="1.000" height="17.86" fill="#E8FF10"/>
<rect x="506.21" y="150.10" width="1.000" height="7.35" fill="#FFE010"/>
<rect x="506.76" y="143.98" width="1.000" height="13.47" fill="#FF9810"/>
<rect x="507.31" y="135.36" width="1.000" height="22.09" fill="#FF5800"/>
<rect x="507.85" y="142.62" width="1.000" height="14.83" fill="#FF2800"/>
<rect x="508.40" y="147.20" width="1.000" height="10.25" fill="#FF1010"/>
<rect x="508.94" y="149.04" width="1.000" height="8.41" fill="#E80808"/>
<rect x="509.49" y="154.93" width="1.000" height="2.52" fill="#B00808"/>
<rect x="510.04" y="154.29" width="1.000" height="3.16" fill="#780000"/>
<rect x="513.45" y="153.21" width="1.000" height="4.24" fill="#0000C4"/>
<rect x="513.99" y="111.75" width="1.000" height="45.70" fill="#0010FF"/>
<rect x="514.54" y="128.44" width="1.000" height="29.01" fill="#1030FF"/>
<rect x="515.09" y="138.69" width="1.000" height="18.76" fill="#1840FF"/>
<rect x="515.63" y="138.05" width="1.000" height="19.40" fill="#2050FF"/>
<rect x="516.18" y="139.30" width="1.000" height="18.15" fill="#3C8CF8"/>
<rect x="516.72" y="142.85" width="1.000" height="14.60" fill="#58E0FF"/>
<rect x="517.27" y="141.10" width="1.000" height="16.35" fill="#60F0E8"/>
<rect x="517.82" y="138.75" width="1.000" height="18.70" fill="#68F8B0"/>
<rect x="518.36" y="140.98" width="1.000" height="16.47" fill="#70FF60"/>
<rect x="518.91" y="148.05" width="1.000" height="9.40" fill="#88FF40"/>
<rect x="519.45" y="131.89" width="1.000" height="25.56" fill="#B0FF20"/>
<rect x="520.00" y="139.37" width="1.000" height="18.08" fill="#E8FF10"/>
<rect x="520.55" y="149.98" width="1.000" height="7.47" fill="#FFE010"/>
<rect x="521.09" y="143.82" width="1.000" height="13.63" fill="#FF9810"/>
<rect x="521.64" y="135.11" width="1.000" height="22.34" fill="#FF5800"/>
<rect x="522.18" y="142.33" width="1.000" height="15.12" fill="#FF2800"/>
<rect x="522.73" y="147.04" width="1.000" height="10.41" fill="#FF1010"/>
<rect x="523.28" y="148.84" width="1.000" height="8.61" fill="#E80808"/>
<rect x="523.82" y="154.82" width="1.000" height="2.63" fill="#B00808"/>
<rect x="524.37" y="153.81" width="1.000" height="3.64" fill="#780000"/>
<rect x="527.78" y="153.09" width="1.000" height="4.36" fill="#0000C4"/>
<rect x="528.33" y="113.01" width="1.000" height="44.44" fill="#0010FF"/>
<rect x="528.87" y="128.53" width="1.000" height="28.92" fill="#1030FF"/>
<rect x="529.42" y="138.58" width="1.000" height="18.87" fill="#1840FF"/>
<rect x="529.96" y="137.77" width="1.000" height="19.68" fill="#2050FF"/>
<rect x="530.51" y="138.82" width="1.000" height="18.63" fill="#3C8CF8"/>
<rect x="531.06" y="142.85" width="1.000" height="14.60" fill="#58E0FF"/>
<rect x="531.60" y="140.96" width="1.000" height="16.49" fill="#60F0E8"/>
<rect x="532.15" y="138.52" width="1.000" height="18.93" fill="#68F8B0"/>
<rect x="532.69" y="140.92" width="1.000" height="16.53" fill="#70FF60"/>
<rect x="533.24" y="148.10" width="1.000" height="9.35" fill="#88FF40"/>
<rect x="533.79" y="132.43" width="1.000" height="25.02" fill="#B0FF20"/>
<rect x="534.33" y="139.14" width="1.000" height="18.31" fill="#E8FF10"/>
<rect x="534.88" y="149.87" width="1.000" height="7.58" fill="#FFE010"/>
<rect x="535.42" y="143.65" width="1.000" height="13.80" fill="#FF9810"/>
<rect x="535.97" y="134.93" width="1.000" height="22.52" fill="#FF5800"/>
<rect x="536.52" y="142.04" width="1.000" height="15.41" fill="#FF2800"/>
<rect x="537.06" y="146.88" width="1.000" height="10.57" fill="#FF1010"/>
<rect x="537.61" y="148.65" width="1.000" height="8.80" fill="#E80808"/>
<rect x="538.15" y="154.70" width="1.000" height="2.75" fill="#B00808"/>
<rect x="538.70" y="153.08" width="1.000" height="4.37" fill="#780000"/>
<rect x="542.11" y="152.98" width="1.000" height="4.47" fill="#0000C4"/>
<rect x="542.66" y="114.04" width="1.000" height="43.41" fill="#0010FF"/>
<rect x="543.20" y="128.62" width="1.000" height="28.83" fill="#1030FF"/>
<rect x="543.75" y="138.47" width="1.000" height="18.98" fill="#1840FF"/>
<rect x="544.30" y="137.50" width="1.000" height="19.95" fill="#2050FF"/>
<rect x="544.84" y="138.34" width="1.000" height="19.11" fill="#3C8CF8"/>
<rect x="545.39" y="142.85" width="1.000" height="14.60" fill="#58E0FF"/>
<rect x="545.93" y="140.82" width="1.000" height="16.63" fill="#60F0E8"/>
<rect x="546.48" y="138.29" width="1.000" height="19.16" fill="#68F8B0"/>
<rect x="547.02" y="140.85" width="1.000" height="16.60" fill="#70FF60"/>
<rect x="547.57" y="148.14" width="1.000" height="9.31" fill="#88FF40"/>
<rect x="548.12" y="132.97" width="1.000" height="24.48" fill="#B0FF20"/>
<rect x="548.66" y="138.92" width="1.000" height="18.53" fill="#E8FF10"/>
<rect x="549.21" y="149.75" width="1.000" height="7.70" fill="#FFE010"/>
<rect x="549.75" y="143.49" width="1.000" height="13.96" fill="#FF9810"/>
<rect x="550.30" y="134.74" width="1.000" height="22.71" fill="#FF5800"/>
<rect x="550.85" y="141.75" width="1.000" height="15.70" fill="#FF2800"/>
<rect x="551.39" y="146.72" width="1.000" height="10.73" fill="#FF1010"/>
<rect x="551.94" y="148.46" width="1.000" height="8.99" fill="#E80808"/>
<rect x="552.48" y="154.59" width="1.000" height="2.86" fill="#B00808"/>
<rect x="553.03" y="152.36" width="1.000" height="5.09" fill="#780000"/>
<rect x="556.44" y="152.86" width="1.000" height="4.59" fill="#0000C4"/>
<rect x="556.99" y="114.81" width="1.000" height="42.64" fill="#0010FF"/>
<rect x="557.53" y="128.72" width="1.000" height="28.73" fill="#1030FF"/>
<rect x="558.08" y="138.35" width="1.000" height="19.10" fill="#1840FF"/>
<rect x="558.63" y="137.23" width="1.000" height="20.22" fill="#2050FF"/>
<rect x="559.17" y="137.85" width="1.000" height="19.60" fill="#3C8CF8"/>
<rect x="559.72" y="142.85" width="1.000" height="14.60" fill="#58E0FF"/>
<rect x="560.26" y="140.69" width="1.000" height="16.76" fill="#60F0E8"/>
<rect x="560.81" y="138.06" width="1.000" height="19.39" fill="#68F8B0"/>
<rect x="561.36" y="140.79" width="1.000" height="16.66" fill="#70FF60"/>
<rect x="561.90" y="148.19" width="1.000" height="9.26" fill="#88FF40"/>
<rect x="562.45" y="133.50" width="1.000" height="23.95" fill="#B0FF20"/>
<rect x="562.99" y="138.69" width="1.000" height="18.76" fill="#E8FF10"/>
<rect x="563.54" y="149.64" width="1.000" height="7.81" fill="#FFE010"/>
<rect x="564.09" y="143.33" width="1.000" height="14.12" fill="#FF9810"/>
<rect x="564.63" y="134.55" width="1.000" height="22.90" fill="#FF5800"/>
<rect x="565.18" y="141.46" width="1.000" height="15.99" fill="#FF2800"/>
<rect x="565.72" y="146.55" width="1.000" height="10.90" fill="#FF1010"/>
<rect x="566.27" y="148.26" width="1.000" height="9.19" fill="#E80808"/>
<rect x="566.82" y="154.47" width="1.000" height="2.98" fill="#B00808"/>
<rect x="567.36" y="151.63" width="1.000" height="5.82" fill="#780000"/>
<rect x="570.77" y="152.75" width="1.000" height="4.70" fill="#0000C4"/>
<rect x="571.32" y="115.26" width="1.000" height="42.19" fill="#0010FF"/>
<rect x="571.87" y="128.81" width="1.000" height="28.64" fill="#1030FF"/>
<rect x="572.41" y="138.24" width="1.000" height="19.21" fill="#1840FF"/>
<rect x="572.96" y="136.95" width="1.000" height="20.50" fill="#2050FF"/>
<rect x="573.50" y="137.37" width="1.000" height="20.08" fill="#3C8CF8"/>
<rect x="574.05" y="142.85" width="1.000" height="14.60" fill="#58E0FF"/>
<rect x="574.60" y="140.55" width="1.000" height="16.90" fill="#60F0E8"/>
<rect x="575.14" y="137.83" width="1.000" height="19.62" fill="#68F8B0"/>
<rect x="575.69" y="140.72" width="1.000" height="16.73" fill="#70FF60"/>
<rect x="576.23" y="148.23" width="1.000" height="9.22" fill="#88FF40"/>
<rect x="576.78" y="134.04" width="1.000" height="23.41" fill="#B0FF20"/>
<rect x="577.33" y="138.47" width="1.000" height="18.98" fill="#E8FF10"/>
<rect x="577.87" y="149.52" width="1.000" height="7.93" fill="#FFE010"/>
<rect x="578.42" y="143.17" width="1.000" height="14.28" fill="#FF9810"/>
<rect x="578.96" y="134.36" width="1.000" height="23.09" fill="#FF5800"/>
<rect x="579.51" y="141.17" width="1.000" height="16.28" fill="#FF2800"/>
<rect x="580.05" y="146.39" width="1.000" height="11.06" fill="#FF1010"/>
<rect x="580.60" y="148.07" width="1.000" height="9.38" fill="#E80808"/>
<rect x="581.15" y="154.36" width="1.000" height="3.09" fill="#B00808"/>
<rect x="581.69" y="150.91" width="1.000" height="6.54" fill="#780000"/>
<rect x="585.11" y="152.63" width="1.000" height="4.82" fill="#0000C4"/>
<rect x="585.65" y="115.78" width="1.000" height="41.67" fill="#0010FF"/>
<rect x="586.20" y="128.90" width="1.000" height="28.55" fill="#1030FF"/>
<rect x="586.74" y="138.13" width="1.000" height="19.32" fill="#1840FF"/>
<rect x="587.29" y="136.68" width="1.000" height="20.77" fill="#2050FF"/>
<rect x="587.83" y="136.89" width="1.000" height="20.56" fill="#3C8CF8"/>
<rect x="588.38" y="142.85" width="1.000" height="14.60" fill="#58E0FF"/>
<rect x="588.93" y="140.41" width="1.000" height="17.04" fill="#60F0E8"/>
<rect x="589.47" y="137.60" width="1.000" height="19.85" fill="#68F8B0"/>
<rect x="590.02" y="140.66" width="1.000" height="16.79" fill="#70FF60"/>
<rect x="590.56" y="148.28" width="1.000" height="9.17" fill="#88FF40"/>
<rect x="591.11" y="134.58" width="1.000" height="22.87" fill="#B0FF20"/>
<rect x="591.66" y="138.24" width="1.000" height="19.21" fill="#E8FF10"/>
<rect x="592.20" y="149.41" width="1.000" height="8.04" fill="#FFE010"/>
<rect x="592.75" y="143.01" width="1.000" height="14.44" fill="#FF9810"/>
<rect x="593.29" y="134.17" width="1.000" height="23.28" fill="#FF5800"/>
<rect x="593.84" y="140.88" width="1.000" height="16.57" fill="#FF2800"/>
<rect x="594.39" y="146.23" width="1.000" height="11.22" fill="#FF1010"/>
<rect x="594.93" y="147.88" width="1.000" height="9.57" fill="#E80808"/>
<rect x="595.48" y="154.24" width="1.000" height="3.21" fill="#B00808"/>
<rect x="596.02" y="150.18" width="1.000" height="7.27" fill="#780000"/>
<rect x="599.44" y="152.52" width="1.000" height="4.93" fill="#0000C4"/>
<rect x="599.98" y="116.49" width="1.000" height="40.96" fill="#0010FF"/>
<rect x="600.53" y="128.99" width="1.000" height="28.46" fill="#1030FF"/>
<rect x="601.07" y="138.01" width="1.000" height="19.44" fill="#1840FF"/>
<rect x="601.62" y="136.40" width="1.000" height="21.05" fill="#2050FF"/>
<rect x="602.17" y="136.40" width="1.000" height="21.05" fill="#3C8CF8"/>
<rect x="602.71" y="142.85" width="1.000" height="14.60" fill="#58E0FF"/>
<rect x="603.26" y="140.27" width="1.000" height="17.18" fill="#60F0E8"/>
<rect x="603.80" y="137.37" width="1.000" height="20.08" fill="#68F8B0"/>
<rect x="604.35" y="140.59" width="1.000" height="16.86" fill="#70FF60"/>
<rect x="604.90" y="148.33" width="1.000" height="9.12" fill="#88FF40"/>
<rect x="605.44" y="135.11" width="1.000" height="22.34" fill="#B0FF20"/>
<rect x="605.99" y="138.01" width="1.000" height="19.44" fill="#E8FF10"/>
<rect x="606.53" y="149.29" width="1.000" height="8.16" fill="#FFE010"/>
<rect x="607.08" y="142.85" width="1.000" height="14.60" fill="#FF9810"/>
<rect x="607.63" y="133.99" width="1.000" height="23.46" fill="#FF5800"/>
<rect x="608.17" y="140.59" width="1.000" height="16.86" fill="#FF2800"/>
<rect x="608.72" y="146.07" width="1.000" height="11.38" fill="#FF1010"/>
<rect x="609.26" y="147.68" width="1.000" height="9.77" fill="#E80808"/>
<rect x="609.81" y="154.13" width="1.000" height="3.32" fill="#B00808"/>
<rect x="610.36" y="149.45" width="1.000" height="8.00" fill="#780000"/>
<path d="M405.03 157.35v-2.2M405.03 28.45v2.2M419.36 157.35v-2.2M419.36 28.45v2.2M433.69 157.35v-2.2M433.69 28.45v2.2M448.02 157.35v-2.2M448.02 28.45v2.2M462.36 157.35v-2.2M462.36 28.45v2.2M476.69 157.35v-2.2M476.69 28.45v2.2M491.02 157.35v-2.2M491.02 28.45v2.2M505.35 157.35v-2.2M505.35 28.45v2.2M519.68 157.35v-2.2M519.68 28.45v2.2M534.01 157.35v-2.2M534.01 28.45v2.2M548.34 157.35v-2.2M548.34 28.45v2.2M562.67 157.35v-2.2M562.67 28.45v2.2M577.01 157.35v-2.2M577.01 28.45v2.2M591.34 157.35v-2.2M591.34 28.45v2.2M605.67 157.35v-2.2M605.67 28.45v2.2M390.70 157.35h2.2M620.00 157.35h-2.2M390.70 141.24h2.2M620.00 141.24h-2.2M390.70 125.12h2.2M620.00 125.12h-2.2M390.70 109.01h2.2M620.00 109.01h-2.2M390.70 92.90h2.2M620.00 92.90h-2.2M390.70 76.79h2.2M620.00 76.79h-2.2M390.70 60.67h2.2M620.00 60.67h-2.2M390.70 44.56h2.2M620.00 44.56h-2.2M390.70 28.45h2.2M620.00 28.45h-2.2" stroke="#484848" stroke-width="0.8" fill="none"/>
<text transform="translate(388.40 159.40) scale(0.9 1)" font-size="6.9" text-anchor="end">0</text>
<text transform="translate(388.40 143.29) scale(0.9 1)" font-size="6.9" text-anchor="end">0.05</text>
<text transform="translate(388.40 127.17) scale(0.9 1)" font-size="6.9" text-anchor="end">0.1</text>
<text transform="translate(388.40 111.06) scale(0.9 1)" font-size="6.9" text-anchor="end">0.15</text>
<text transform="translate(388.40 94.95) scale(0.9 1)" font-size="6.9" text-anchor="end">0.2</text>
<text transform="translate(388.40 78.84) scale(0.9 1)" font-size="6.9" text-anchor="end">0.25</text>
<text transform="translate(388.40 62.72) scale(0.9 1)" font-size="6.9" text-anchor="end">0.3</text>
<text transform="translate(388.40 46.61) scale(0.9 1)" font-size="6.9" text-anchor="end">0.35</text>
<text transform="translate(388.40 30.50) scale(0.9 1)" font-size="6.9" text-anchor="end">0.4</text>
<text transform="translate(404.93 164.65) scale(0.88 1)" font-size="6.7" text-anchor="middle">1</text>
<text transform="translate(419.26 164.65) scale(0.88 1)" font-size="6.7" text-anchor="middle">2</text>
<text transform="translate(433.59 164.65) scale(0.88 1)" font-size="6.7" text-anchor="middle">3</text>
<text transform="translate(447.92 164.65) scale(0.88 1)" font-size="6.7" text-anchor="middle">4</text>
<text transform="translate(462.26 164.65) scale(0.88 1)" font-size="6.7" text-anchor="middle">5</text>
<text transform="translate(476.59 164.65) scale(0.88 1)" font-size="6.7" text-anchor="middle">6</text>
<text transform="translate(490.92 164.65) scale(0.88 1)" font-size="6.7" text-anchor="middle">7</text>
<text transform="translate(505.25 164.65) scale(0.88 1)" font-size="6.7" text-anchor="middle">8</text>
<text transform="translate(519.58 164.65) scale(0.88 1)" font-size="6.7" text-anchor="middle">9</text>
<text transform="translate(533.91 164.65) scale(0.88 1)" font-size="6.7" text-anchor="middle">10</text>
<text transform="translate(548.24 164.65) scale(0.88 1)" font-size="6.7" text-anchor="middle">11</text>
<text transform="translate(562.57 164.65) scale(0.88 1)" font-size="6.7" text-anchor="middle">12</text>
<text transform="translate(576.91 164.65) scale(0.88 1)" font-size="6.7" text-anchor="middle">13</text>
<text transform="translate(591.24 164.65) scale(0.88 1)" font-size="6.7" text-anchor="middle">14</text>
<text transform="translate(605.57 164.65) scale(0.88 1)" font-size="6.7" text-anchor="middle">15</text>
<text x="506.2" y="22.60" font-size="6.4" text-anchor="middle">CK2alpha neg</text>
<text class="ser" transform="translate(369.2 14.6) scale(0.70 1)" font-size="14.6">B</text>
</g>
<g id="panelC">
<rect x="89.45" y="208.50" width="229.15" height="128.70" fill="none" stroke="#484848" stroke-width="0.8"/>
<rect x="97.54" y="334.63" width="1.000" height="2.67" fill="#0000C4"/>
<rect x="98.09" y="252.90" width="1.000" height="84.40" fill="#0010FF"/>
<rect x="98.63" y="305.02" width="1.000" height="32.27" fill="#1030FF"/>
<rect x="99.18" y="219.21" width="1.000" height="118.09" fill="#1840FF"/>
<rect x="99.73" y="332.70" width="1.000" height="4.60" fill="#2050FF"/>
<rect x="100.27" y="332.70" width="1.000" height="4.60" fill="#3C8CF8"/>
<rect x="100.82" y="333.98" width="1.000" height="3.32" fill="#58E0FF"/>
<rect x="101.36" y="333.98" width="1.000" height="3.32" fill="#60F0E8"/>
<rect x="101.91" y="333.34" width="1.000" height="3.96" fill="#68F8B0"/>
<rect x="102.45" y="332.70" width="1.000" height="4.60" fill="#70FF60"/>
<rect x="103.00" y="333.34" width="1.000" height="3.96" fill="#88FF40"/>
<rect x="103.54" y="332.05" width="1.000" height="5.25" fill="#B0FF20"/>
<rect x="104.09" y="328.51" width="1.000" height="8.79" fill="#E8FF10"/>
<rect x="104.64" y="328.51" width="1.000" height="8.79" fill="#FFE010"/>
<rect x="105.18" y="328.51" width="1.000" height="8.79" fill="#FF9810"/>
<rect x="105.73" y="333.98" width="1.000" height="3.32" fill="#FF5800"/>
<rect x="106.27" y="334.95" width="1.000" height="2.35" fill="#FF2800"/>
<rect x="106.82" y="335.59" width="1.000" height="1.71" fill="#FF1010"/>
<rect x="107.36" y="335.91" width="1.000" height="1.39" fill="#E80808"/>
<rect x="107.91" y="336.56" width="1.000" height="0.74" fill="#B00808"/>
<rect x="111.86" y="334.47" width="1.000" height="2.83" fill="#0000C4"/>
<rect x="112.41" y="274.46" width="1.000" height="62.84" fill="#0010FF"/>
<rect x="112.96" y="311.46" width="1.000" height="25.84" fill="#1030FF"/>
<rect x="113.50" y="250.33" width="1.000" height="86.97" fill="#1840FF"/>
<rect x="114.05" y="328.19" width="1.000" height="9.11" fill="#2050FF"/>
<rect x="114.59" y="329.16" width="1.000" height="8.14" fill="#3C8CF8"/>
<rect x="115.14" y="332.05" width="1.000" height="5.25" fill="#58E0FF"/>
<rect x="115.68" y="331.41" width="1.000" height="5.89" fill="#60F0E8"/>
<rect x="116.23" y="329.16" width="1.000" height="8.14" fill="#68F8B0"/>
<rect x="116.78" y="327.55" width="1.000" height="9.75" fill="#70FF60"/>
<rect x="117.32" y="330.76" width="1.000" height="6.53" fill="#88FF40"/>
<rect x="117.87" y="324.33" width="1.000" height="12.97" fill="#B0FF20"/>
<rect x="118.41" y="322.08" width="1.000" height="15.22" fill="#E8FF10"/>
<rect x="118.96" y="327.55" width="1.000" height="9.75" fill="#FFE010"/>
<rect x="119.50" y="327.55" width="1.000" height="9.75" fill="#FF9810"/>
<rect x="120.05" y="321.27" width="1.000" height="16.03" fill="#FF5800"/>
<rect x="120.59" y="330.76" width="1.000" height="6.53" fill="#FF2800"/>
<rect x="121.14" y="333.34" width="1.000" height="3.96" fill="#FF1010"/>
<rect x="121.69" y="333.98" width="1.000" height="3.32" fill="#E80808"/>
<rect x="122.23" y="336.42" width="1.000" height="0.88" fill="#B00808"/>
<rect x="126.19" y="334.30" width="1.000" height="3.00" fill="#0000C4"/>
<rect x="126.73" y="285.72" width="1.000" height="51.58" fill="#0010FF"/>
<rect x="127.28" y="313.07" width="1.000" height="24.23" fill="#1030FF"/>
<rect x="127.82" y="266.42" width="1.000" height="70.88" fill="#1840FF"/>
<rect x="128.37" y="321.11" width="1.000" height="16.19" fill="#2050FF"/>
<rect x="128.91" y="322.72" width="1.000" height="14.58" fill="#3C8CF8"/>
<rect x="129.46" y="329.16" width="1.000" height="8.14" fill="#58E0FF"/>
<rect x="130.01" y="327.55" width="1.000" height="9.75" fill="#60F0E8"/>
<rect x="130.55" y="325.94" width="1.000" height="11.36" fill="#68F8B0"/>
<rect x="131.10" y="326.26" width="1.000" height="11.04" fill="#70FF60"/>
<rect x="131.64" y="330.55" width="1.000" height="6.75" fill="#88FF40"/>
<rect x="132.19" y="321.11" width="1.000" height="16.19" fill="#B0FF20"/>
<rect x="132.73" y="315.80" width="1.000" height="21.50" fill="#E8FF10"/>
<rect x="133.28" y="330.12" width="1.000" height="7.18" fill="#FFE010"/>
<rect x="133.83" y="327.30" width="1.000" height="10.00" fill="#FF9810"/>
<rect x="134.37" y="318.22" width="1.000" height="19.08" fill="#FF5800"/>
<rect x="134.92" y="327.55" width="1.000" height="9.75" fill="#FF2800"/>
<rect x="135.46" y="331.94" width="1.000" height="5.36" fill="#FF1010"/>
<rect x="136.01" y="332.91" width="1.000" height="4.39" fill="#E80808"/>
<rect x="136.55" y="336.28" width="1.000" height="1.02" fill="#B00808"/>
<rect x="137.10" y="336.96" width="1.000" height="0.34" fill="#780000"/>
<rect x="140.51" y="334.14" width="1.000" height="3.16" fill="#0000C4"/>
<rect x="141.05" y="284.75" width="1.000" height="52.55" fill="#0010FF"/>
<rect x="141.60" y="314.68" width="1.000" height="22.62" fill="#1030FF"/>
<rect x="142.15" y="272.85" width="1.000" height="64.45" fill="#1840FF"/>
<rect x="142.69" y="318.70" width="1.000" height="18.60" fill="#2050FF"/>
<rect x="143.24" y="321.11" width="1.000" height="16.19" fill="#3C8CF8"/>
<rect x="143.78" y="327.23" width="1.000" height="10.07" fill="#58E0FF"/>
<rect x="144.33" y="325.13" width="1.000" height="12.17" fill="#60F0E8"/>
<rect x="144.87" y="322.72" width="1.000" height="14.58" fill="#68F8B0"/>
<rect x="145.42" y="324.49" width="1.000" height="12.81" fill="#70FF60"/>
<rect x="145.96" y="330.34" width="1.000" height="6.96" fill="#88FF40"/>
<rect x="146.51" y="319.50" width="1.000" height="17.80" fill="#B0FF20"/>
<rect x="147.06" y="315.10" width="1.000" height="22.20" fill="#E8FF10"/>
<rect x="147.60" y="330.18" width="1.000" height="7.12" fill="#FFE010"/>
<rect x="148.15" y="327.05" width="1.000" height="10.25" fill="#FF9810"/>
<rect x="148.69" y="315.10" width="1.000" height="22.20" fill="#FF5800"/>
<rect x="149.24" y="325.13" width="1.000" height="12.17" fill="#FF2800"/>
<rect x="149.78" y="330.55" width="1.000" height="6.75" fill="#FF1010"/>
<rect x="150.33" y="331.84" width="1.000" height="5.46" fill="#E80808"/>
<rect x="150.88" y="336.14" width="1.000" height="1.16" fill="#B00808"/>
<rect x="151.42" y="336.84" width="1.000" height="0.46" fill="#780000"/>
<rect x="154.83" y="333.98" width="1.000" height="3.32" fill="#0000C4"/>
<rect x="155.38" y="286.49" width="1.000" height="50.81" fill="#0010FF"/>
<rect x="155.92" y="314.68" width="1.000" height="22.62" fill="#1030FF"/>
<rect x="156.47" y="279.61" width="1.000" height="57.69" fill="#1840FF"/>
<rect x="157.01" y="316.29" width="1.000" height="21.01" fill="#2050FF"/>
<rect x="157.56" y="319.50" width="1.000" height="17.80" fill="#3C8CF8"/>
<rect x="158.10" y="325.30" width="1.000" height="12.00" fill="#58E0FF"/>
<rect x="158.65" y="322.72" width="1.000" height="14.58" fill="#60F0E8"/>
<rect x="159.20" y="319.50" width="1.000" height="17.80" fill="#68F8B0"/>
<rect x="159.74" y="322.72" width="1.000" height="14.58" fill="#70FF60"/>
<rect x="160.29" y="330.12" width="1.000" height="7.18" fill="#88FF40"/>
<rect x="160.83" y="317.89" width="1.000" height="19.40" fill="#B0FF20"/>
<rect x="161.38" y="314.83" width="1.000" height="22.47" fill="#E8FF10"/>
<rect x="161.92" y="330.23" width="1.000" height="7.07" fill="#FFE010"/>
<rect x="162.47" y="326.81" width="1.000" height="10.49" fill="#FF9810"/>
<rect x="163.01" y="314.83" width="1.000" height="22.47" fill="#FF5800"/>
<rect x="163.56" y="322.72" width="1.000" height="14.58" fill="#FF2800"/>
<rect x="164.11" y="329.16" width="1.000" height="8.14" fill="#FF1010"/>
<rect x="164.65" y="330.76" width="1.000" height="6.53" fill="#E80808"/>
<rect x="165.20" y="336.00" width="1.000" height="1.30" fill="#B00808"/>
<rect x="165.74" y="336.72" width="1.000" height="0.58" fill="#780000"/>
<rect x="169.15" y="333.82" width="1.000" height="3.48" fill="#0000C4"/>
<rect x="169.70" y="289.26" width="1.000" height="48.04" fill="#0010FF"/>
<rect x="170.24" y="314.68" width="1.000" height="22.62" fill="#1030FF"/>
<rect x="170.79" y="283.47" width="1.000" height="53.83" fill="#1840FF"/>
<rect x="171.33" y="316.13" width="1.000" height="21.17" fill="#2050FF"/>
<rect x="171.88" y="319.18" width="1.000" height="18.12" fill="#3C8CF8"/>
<rect x="172.43" y="325.20" width="1.000" height="12.10" fill="#58E0FF"/>
<rect x="172.97" y="322.62" width="1.000" height="14.68" fill="#60F0E8"/>
<rect x="173.52" y="319.34" width="1.000" height="17.96" fill="#68F8B0"/>
<rect x="174.06" y="322.72" width="1.000" height="14.58" fill="#70FF60"/>
<rect x="174.61" y="330.02" width="1.000" height="7.28" fill="#88FF40"/>
<rect x="175.15" y="317.83" width="1.000" height="19.47" fill="#B0FF20"/>
<rect x="175.70" y="314.56" width="1.000" height="22.74" fill="#E8FF10"/>
<rect x="176.25" y="330.28" width="1.000" height="7.02" fill="#FFE010"/>
<rect x="176.79" y="326.56" width="1.000" height="10.74" fill="#FF9810"/>
<rect x="177.34" y="314.56" width="1.000" height="22.74" fill="#FF5800"/>
<rect x="177.88" y="322.56" width="1.000" height="14.74" fill="#FF2800"/>
<rect x="178.43" y="329.00" width="1.000" height="8.30" fill="#FF1010"/>
<rect x="178.97" y="330.60" width="1.000" height="6.70" fill="#E80808"/>
<rect x="179.52" y="335.87" width="1.000" height="1.43" fill="#B00808"/>
<rect x="180.06" y="336.60" width="1.000" height="0.70" fill="#780000"/>
<rect x="183.47" y="333.66" width="1.000" height="3.64" fill="#0000C4"/>
<rect x="184.02" y="290.55" width="1.000" height="46.75" fill="#0010FF"/>
<rect x="184.57" y="314.68" width="1.000" height="22.62" fill="#1030FF"/>
<rect x="185.11" y="285.27" width="1.000" height="52.03" fill="#1840FF"/>
<rect x="185.66" y="315.96" width="1.000" height="21.34" fill="#2050FF"/>
<rect x="186.20" y="318.86" width="1.000" height="18.44" fill="#3C8CF8"/>
<rect x="186.75" y="325.10" width="1.000" height="12.20" fill="#58E0FF"/>
<rect x="187.29" y="322.53" width="1.000" height="14.77" fill="#60F0E8"/>
<rect x="187.84" y="319.18" width="1.000" height="18.12" fill="#68F8B0"/>
<rect x="188.38" y="322.72" width="1.000" height="14.58" fill="#70FF60"/>
<rect x="188.93" y="329.93" width="1.000" height="7.37" fill="#88FF40"/>
<rect x="189.48" y="317.77" width="1.000" height="19.53" fill="#B0FF20"/>
<rect x="190.02" y="314.30" width="1.000" height="23.00" fill="#E8FF10"/>
<rect x="190.57" y="330.34" width="1.000" height="6.96" fill="#FFE010"/>
<rect x="191.11" y="326.31" width="1.000" height="10.99" fill="#FF9810"/>
<rect x="191.66" y="314.30" width="1.000" height="23.00" fill="#FF5800"/>
<rect x="192.20" y="322.40" width="1.000" height="14.90" fill="#FF2800"/>
<rect x="192.75" y="328.83" width="1.000" height="8.47" fill="#FF1010"/>
<rect x="193.30" y="330.44" width="1.000" height="6.86" fill="#E80808"/>
<rect x="193.84" y="335.73" width="1.000" height="1.57" fill="#B00808"/>
<rect x="194.39" y="336.48" width="1.000" height="0.82" fill="#780000"/>
<rect x="197.80" y="333.50" width="1.000" height="3.80" fill="#0000C4"/>
<rect x="198.34" y="290.87" width="1.000" height="46.43" fill="#0010FF"/>
<rect x="198.89" y="314.68" width="1.000" height="22.62" fill="#1030FF"/>
<rect x="199.43" y="287.33" width="1.000" height="49.97" fill="#1840FF"/>
<rect x="199.98" y="315.80" width="1.000" height="21.50" fill="#2050FF"/>
<rect x="200.52" y="318.54" width="1.000" height="18.76" fill="#3C8CF8"/>
<rect x="201.07" y="325.01" width="1.000" height="12.29" fill="#58E0FF"/>
<rect x="201.62" y="322.43" width="1.000" height="14.87" fill="#60F0E8"/>
<rect x="202.16" y="319.02" width="1.000" height="18.28" fill="#68F8B0"/>
<rect x="202.71" y="322.72" width="1.000" height="14.58" fill="#70FF60"/>
<rect x="203.25" y="329.83" width="1.000" height="7.47" fill="#88FF40"/>
<rect x="203.80" y="317.70" width="1.000" height="19.60" fill="#B0FF20"/>
<rect x="204.34" y="314.03" width="1.000" height="23.27" fill="#E8FF10"/>
<rect x="204.89" y="330.39" width="1.000" height="6.91" fill="#FFE010"/>
<rect x="205.43" y="326.06" width="1.000" height="11.24" fill="#FF9810"/>
<rect x="205.98" y="314.03" width="1.000" height="23.27" fill="#FF5800"/>
<rect x="206.53" y="322.24" width="1.000" height="15.06" fill="#FF2800"/>
<rect x="207.07" y="328.67" width="1.000" height="8.63" fill="#FF1010"/>
<rect x="207.62" y="330.28" width="1.000" height="7.02" fill="#E80808"/>
<rect x="208.16" y="335.59" width="1.000" height="1.71" fill="#B00808"/>
<rect x="208.71" y="336.36" width="1.000" height="0.94" fill="#780000"/>
<rect x="212.12" y="333.34" width="1.000" height="3.96" fill="#0000C4"/>
<rect x="212.66" y="290.00" width="1.000" height="47.30" fill="#0010FF"/>
<rect x="213.21" y="314.68" width="1.000" height="22.62" fill="#1030FF"/>
<rect x="213.75" y="290.00" width="1.000" height="47.30" fill="#1840FF"/>
<rect x="214.30" y="315.64" width="1.000" height="21.66" fill="#2050FF"/>
<rect x="214.85" y="318.22" width="1.000" height="19.08" fill="#3C8CF8"/>
<rect x="215.39" y="324.91" width="1.000" height="12.39" fill="#58E0FF"/>
<rect x="215.94" y="322.34" width="1.000" height="14.96" fill="#60F0E8"/>
<rect x="216.48" y="318.86" width="1.000" height="18.44" fill="#68F8B0"/>
<rect x="217.03" y="322.72" width="1.000" height="14.58" fill="#70FF60"/>
<rect x="217.57" y="329.74" width="1.000" height="7.56" fill="#88FF40"/>
<rect x="218.12" y="317.64" width="1.000" height="19.66" fill="#B0FF20"/>
<rect x="218.67" y="314.03" width="1.000" height="23.27" fill="#E8FF10"/>
<rect x="219.21" y="330.44" width="1.000" height="6.86" fill="#FFE010"/>
<rect x="219.76" y="325.81" width="1.000" height="11.48" fill="#FF9810"/>
<rect x="220.30" y="314.03" width="1.000" height="23.27" fill="#FF5800"/>
<rect x="220.85" y="322.08" width="1.000" height="15.22" fill="#FF2800"/>
<rect x="221.39" y="328.51" width="1.000" height="8.79" fill="#FF1010"/>
<rect x="221.94" y="330.12" width="1.000" height="7.18" fill="#E80808"/>
<rect x="222.48" y="335.45" width="1.000" height="1.85" fill="#B00808"/>
<rect x="223.03" y="336.23" width="1.000" height="1.07" fill="#780000"/>
<rect x="226.44" y="333.18" width="1.000" height="4.12" fill="#0000C4"/>
<rect x="226.99" y="291.83" width="1.000" height="45.47" fill="#0010FF"/>
<rect x="227.53" y="314.68" width="1.000" height="22.62" fill="#1030FF"/>
<rect x="228.08" y="291.83" width="1.000" height="45.47" fill="#1840FF"/>
<rect x="228.62" y="315.48" width="1.000" height="21.82" fill="#2050FF"/>
<rect x="229.17" y="317.89" width="1.000" height="19.40" fill="#3C8CF8"/>
<rect x="229.71" y="324.81" width="1.000" height="12.49" fill="#58E0FF"/>
<rect x="230.26" y="322.24" width="1.000" height="15.06" fill="#60F0E8"/>
<rect x="230.80" y="318.70" width="1.000" height="18.60" fill="#68F8B0"/>
<rect x="231.35" y="322.72" width="1.000" height="14.58" fill="#70FF60"/>
<rect x="231.90" y="329.64" width="1.000" height="7.66" fill="#88FF40"/>
<rect x="232.44" y="317.57" width="1.000" height="19.73" fill="#B0FF20"/>
<rect x="232.99" y="314.03" width="1.000" height="23.27" fill="#E8FF10"/>
<rect x="233.53" y="330.50" width="1.000" height="6.80" fill="#FFE010"/>
<rect x="234.08" y="325.57" width="1.000" height="11.73" fill="#FF9810"/>
<rect x="234.62" y="314.03" width="1.000" height="23.27" fill="#FF5800"/>
<rect x="235.17" y="321.92" width="1.000" height="15.38" fill="#FF2800"/>
<rect x="235.72" y="328.35" width="1.000" height="8.95" fill="#FF1010"/>
<rect x="236.26" y="329.96" width="1.000" height="7.34" fill="#E80808"/>
<rect x="236.81" y="335.32" width="1.000" height="1.98" fill="#B00808"/>
<rect x="237.35" y="335.86" width="1.000" height="1.44" fill="#780000"/>
<rect x="240.76" y="333.02" width="1.000" height="4.28" fill="#0000C4"/>
<rect x="241.31" y="292.64" width="1.000" height="44.66" fill="#0010FF"/>
<rect x="241.85" y="314.68" width="1.000" height="22.62" fill="#1030FF"/>
<rect x="242.40" y="292.64" width="1.000" height="44.66" fill="#1840FF"/>
<rect x="242.94" y="315.32" width="1.000" height="21.98" fill="#2050FF"/>
<rect x="243.49" y="317.57" width="1.000" height="19.73" fill="#3C8CF8"/>
<rect x="244.04" y="324.72" width="1.000" height="12.58" fill="#58E0FF"/>
<rect x="244.58" y="322.14" width="1.000" height="15.16" fill="#60F0E8"/>
<rect x="245.13" y="318.54" width="1.000" height="18.76" fill="#68F8B0"/>
<rect x="245.67" y="322.72" width="1.000" height="14.58" fill="#70FF60"/>
<rect x="246.22" y="329.54" width="1.000" height="7.76" fill="#88FF40"/>
<rect x="246.76" y="317.51" width="1.000" height="19.79" fill="#B0FF20"/>
<rect x="247.31" y="314.03" width="1.000" height="23.27" fill="#E8FF10"/>
<rect x="247.85" y="330.55" width="1.000" height="6.75" fill="#FFE010"/>
<rect x="248.40" y="325.32" width="1.000" height="11.98" fill="#FF9810"/>
<rect x="248.95" y="314.03" width="1.000" height="23.27" fill="#FF5800"/>
<rect x="249.49" y="321.76" width="1.000" height="15.54" fill="#FF2800"/>
<rect x="250.04" y="328.19" width="1.000" height="9.11" fill="#FF1010"/>
<rect x="250.58" y="329.80" width="1.000" height="7.50" fill="#E80808"/>
<rect x="251.13" y="335.18" width="1.000" height="2.12" fill="#B00808"/>
<rect x="251.67" y="335.48" width="1.000" height="1.82" fill="#780000"/>
<rect x="255.08" y="332.86" width="1.000" height="4.44" fill="#0000C4"/>
<rect x="255.63" y="293.51" width="1.000" height="43.79" fill="#0010FF"/>
<rect x="256.17" y="314.68" width="1.000" height="22.62" fill="#1030FF"/>
<rect x="256.72" y="293.51" width="1.000" height="43.79" fill="#1840FF"/>
<rect x="257.27" y="315.16" width="1.000" height="22.14" fill="#2050FF"/>
<rect x="257.81" y="317.25" width="1.000" height="20.05" fill="#3C8CF8"/>
<rect x="258.36" y="324.62" width="1.000" height="12.68" fill="#58E0FF"/>
<rect x="258.90" y="322.05" width="1.000" height="15.25" fill="#60F0E8"/>
<rect x="259.45" y="318.38" width="1.000" height="18.92" fill="#68F8B0"/>
<rect x="259.99" y="322.72" width="1.000" height="14.58" fill="#70FF60"/>
<rect x="260.54" y="329.45" width="1.000" height="7.85" fill="#88FF40"/>
<rect x="261.09" y="317.44" width="1.000" height="19.86" fill="#B0FF20"/>
<rect x="261.63" y="314.03" width="1.000" height="23.27" fill="#E8FF10"/>
<rect x="262.18" y="330.60" width="1.000" height="6.70" fill="#FFE010"/>
<rect x="262.72" y="325.07" width="1.000" height="12.23" fill="#FF9810"/>
<rect x="263.27" y="314.03" width="1.000" height="23.27" fill="#FF5800"/>
<rect x="263.81" y="321.60" width="1.000" height="15.70" fill="#FF2800"/>
<rect x="264.36" y="328.03" width="1.000" height="9.27" fill="#FF1010"/>
<rect x="264.90" y="329.64" width="1.000" height="7.66" fill="#E80808"/>
<rect x="265.45" y="335.04" width="1.000" height="2.26" fill="#B00808"/>
<rect x="266.00" y="335.11" width="1.000" height="2.19" fill="#780000"/>
<rect x="269.41" y="332.70" width="1.000" height="4.60" fill="#0000C4"/>
<rect x="269.95" y="293.51" width="1.000" height="43.79" fill="#0010FF"/>
<rect x="270.50" y="314.68" width="1.000" height="22.62" fill="#1030FF"/>
<rect x="271.04" y="296.14" width="1.000" height="41.16" fill="#1840FF"/>
<rect x="271.59" y="315.00" width="1.000" height="22.30" fill="#2050FF"/>
<rect x="272.13" y="316.93" width="1.000" height="20.37" fill="#3C8CF8"/>
<rect x="272.68" y="324.52" width="1.000" height="12.78" fill="#58E0FF"/>
<rect x="273.22" y="321.95" width="1.000" height="15.35" fill="#60F0E8"/>
<rect x="273.77" y="318.22" width="1.000" height="19.08" fill="#68F8B0"/>
<rect x="274.32" y="322.72" width="1.000" height="14.58" fill="#70FF60"/>
<rect x="274.86" y="329.35" width="1.000" height="7.95" fill="#88FF40"/>
<rect x="275.41" y="317.38" width="1.000" height="19.92" fill="#B0FF20"/>
<rect x="275.95" y="314.03" width="1.000" height="23.27" fill="#E8FF10"/>
<rect x="276.50" y="330.66" width="1.000" height="6.64" fill="#FFE010"/>
<rect x="277.04" y="324.82" width="1.000" height="12.47" fill="#FF9810"/>
<rect x="277.59" y="314.03" width="1.000" height="23.27" fill="#FF5800"/>
<rect x="278.14" y="321.43" width="1.000" height="15.87" fill="#FF2800"/>
<rect x="278.68" y="327.87" width="1.000" height="9.43" fill="#FF1010"/>
<rect x="279.23" y="329.48" width="1.000" height="7.82" fill="#E80808"/>
<rect x="279.77" y="334.90" width="1.000" height="2.40" fill="#B00808"/>
<rect x="280.32" y="334.73" width="1.000" height="2.57" fill="#780000"/>
<rect x="283.73" y="332.53" width="1.000" height="4.77" fill="#0000C4"/>
<rect x="284.27" y="294.09" width="1.000" height="43.21" fill="#0010FF"/>
<rect x="284.82" y="314.68" width="1.000" height="22.62" fill="#1030FF"/>
<rect x="285.36" y="296.98" width="1.000" height="40.32" fill="#1840FF"/>
<rect x="285.91" y="314.84" width="1.000" height="22.46" fill="#2050FF"/>
<rect x="286.46" y="316.61" width="1.000" height="20.69" fill="#3C8CF8"/>
<rect x="287.00" y="324.43" width="1.000" height="12.87" fill="#58E0FF"/>
<rect x="287.55" y="321.85" width="1.000" height="15.45" fill="#60F0E8"/>
<rect x="288.09" y="318.06" width="1.000" height="19.24" fill="#68F8B0"/>
<rect x="288.64" y="322.72" width="1.000" height="14.58" fill="#70FF60"/>
<rect x="289.18" y="329.25" width="1.000" height="8.05" fill="#88FF40"/>
<rect x="289.73" y="317.32" width="1.000" height="19.98" fill="#B0FF20"/>
<rect x="290.27" y="314.03" width="1.000" height="23.27" fill="#E8FF10"/>
<rect x="290.82" y="330.71" width="1.000" height="6.59" fill="#FFE010"/>
<rect x="291.37" y="324.58" width="1.000" height="12.72" fill="#FF9810"/>
<rect x="291.91" y="314.03" width="1.000" height="23.27" fill="#FF5800"/>
<rect x="292.46" y="321.27" width="1.000" height="16.03" fill="#FF2800"/>
<rect x="293.00" y="327.71" width="1.000" height="9.59" fill="#FF1010"/>
<rect x="293.55" y="329.32" width="1.000" height="7.98" fill="#E80808"/>
<rect x="294.09" y="334.76" width="1.000" height="2.54" fill="#B00808"/>
<rect x="294.64" y="334.36" width="1.000" height="2.94" fill="#780000"/>
<rect x="298.05" y="332.37" width="1.000" height="4.93" fill="#0000C4"/>
<rect x="298.59" y="294.09" width="1.000" height="43.21" fill="#0010FF"/>
<rect x="299.14" y="314.68" width="1.000" height="22.62" fill="#1030FF"/>
<rect x="299.69" y="297.95" width="1.000" height="39.35" fill="#1840FF"/>
<rect x="300.23" y="314.68" width="1.000" height="22.62" fill="#2050FF"/>
<rect x="300.78" y="316.29" width="1.000" height="21.01" fill="#3C8CF8"/>
<rect x="301.32" y="324.33" width="1.000" height="12.97" fill="#58E0FF"/>
<rect x="301.87" y="321.76" width="1.000" height="15.54" fill="#60F0E8"/>
<rect x="302.41" y="317.89" width="1.000" height="19.40" fill="#68F8B0"/>
<rect x="302.96" y="322.72" width="1.000" height="14.58" fill="#70FF60"/>
<rect x="303.51" y="329.16" width="1.000" height="8.14" fill="#88FF40"/>
<rect x="304.05" y="317.25" width="1.000" height="20.05" fill="#B0FF20"/>
<rect x="304.60" y="314.03" width="1.000" height="23.27" fill="#E8FF10"/>
<rect x="305.14" y="330.76" width="1.000" height="6.53" fill="#FFE010"/>
<rect x="305.69" y="324.33" width="1.000" height="12.97" fill="#FF9810"/>
<rect x="306.23" y="314.03" width="1.000" height="23.27" fill="#FF5800"/>
<rect x="306.78" y="321.11" width="1.000" height="16.19" fill="#FF2800"/>
<rect x="307.32" y="327.55" width="1.000" height="9.75" fill="#FF1010"/>
<rect x="307.87" y="329.16" width="1.000" height="8.14" fill="#E80808"/>
<rect x="308.42" y="334.63" width="1.000" height="2.67" fill="#B00808"/>
<rect x="308.96" y="333.98" width="1.000" height="3.32" fill="#780000"/>
<path d="M103.77 337.20v-2.2M103.77 208.50v2.2M118.09 337.20v-2.2M118.09 208.50v2.2M132.42 337.20v-2.2M132.42 208.50v2.2M146.74 337.20v-2.2M146.74 208.50v2.2M161.06 337.20v-2.2M161.06 208.50v2.2M175.38 337.20v-2.2M175.38 208.50v2.2M189.70 337.20v-2.2M189.70 208.50v2.2M204.03 337.20v-2.2M204.03 208.50v2.2M218.35 337.20v-2.2M218.35 208.50v2.2M232.67 337.20v-2.2M232.67 208.50v2.2M246.99 337.20v-2.2M246.99 208.50v2.2M261.31 337.20v-2.2M261.31 208.50v2.2M275.63 337.20v-2.2M275.63 208.50v2.2M289.96 337.20v-2.2M289.96 208.50v2.2M304.28 337.20v-2.2M304.28 208.50v2.2M89.45 337.20h2.2M318.60 337.20h-2.2M89.45 321.11h2.2M318.60 321.11h-2.2M89.45 305.02h2.2M318.60 305.02h-2.2M89.45 288.94h2.2M318.60 288.94h-2.2M89.45 272.85h2.2M318.60 272.85h-2.2M89.45 256.76h2.2M318.60 256.76h-2.2M89.45 240.68h2.2M318.60 240.68h-2.2M89.45 224.59h2.2M318.60 224.59h-2.2M89.45 208.50h2.2M318.60 208.50h-2.2" stroke="#484848" stroke-width="0.8" fill="none"/>
<text transform="translate(87.15 339.25) scale(0.9 1)" font-size="6.9" text-anchor="end">0</text>
<text transform="translate(87.15 323.16) scale(0.9 1)" font-size="6.9" text-anchor="end">0.05</text>
<text transform="translate(87.15 307.07) scale(0.9 1)" font-size="6.9" text-anchor="end">0.1</text>
<text transform="translate(87.15 290.99) scale(0.9 1)" font-size="6.9" text-anchor="end">0.15</text>
<text transform="translate(87.15 274.90) scale(0.9 1)" font-size="6.9" text-anchor="end">0.2</text>
<text transform="translate(87.15 258.81) scale(0.9 1)" font-size="6.9" text-anchor="end">0.25</text>
<text transform="translate(87.15 242.73) scale(0.9 1)" font-size="6.9" text-anchor="end">0.3</text>
<text transform="translate(87.15 226.64) scale(0.9 1)" font-size="6.9" text-anchor="end">0.35</text>
<text transform="translate(87.15 210.55) scale(0.9 1)" font-size="6.9" text-anchor="end">0.4</text>
<text transform="translate(103.67 344.50) scale(0.88 1)" font-size="6.7" text-anchor="middle">1</text>
<text transform="translate(117.99 344.50) scale(0.88 1)" font-size="6.7" text-anchor="middle">2</text>
<text transform="translate(132.32 344.50) scale(0.88 1)" font-size="6.7" text-anchor="middle">3</text>
<text transform="translate(146.64 344.50) scale(0.88 1)" font-size="6.7" text-anchor="middle">4</text>
<text transform="translate(160.96 344.50) scale(0.88 1)" font-size="6.7" text-anchor="middle">5</text>
<text transform="translate(175.28 344.50) scale(0.88 1)" font-size="6.7" text-anchor="middle">6</text>
<text transform="translate(189.60 344.50) scale(0.88 1)" font-size="6.7" text-anchor="middle">7</text>
<text transform="translate(203.93 344.50) scale(0.88 1)" font-size="6.7" text-anchor="middle">8</text>
<text transform="translate(218.25 344.50) scale(0.88 1)" font-size="6.7" text-anchor="middle">9</text>
<text transform="translate(232.57 344.50) scale(0.88 1)" font-size="6.7" text-anchor="middle">10</text>
<text transform="translate(246.89 344.50) scale(0.88 1)" font-size="6.7" text-anchor="middle">11</text>
<text transform="translate(261.21 344.50) scale(0.88 1)" font-size="6.7" text-anchor="middle">12</text>
<text transform="translate(275.53 344.50) scale(0.88 1)" font-size="6.7" text-anchor="middle">13</text>
<text transform="translate(289.86 344.50) scale(0.88 1)" font-size="6.7" text-anchor="middle">14</text>
<text transform="translate(304.18 344.50) scale(0.88 1)" font-size="6.7" text-anchor="middle">15</text>
<text x="204.9" y="202.65" font-size="6.4" text-anchor="middle">CDC2 pos</text>
<text class="ser" transform="translate(88.3 191.9) scale(0.70 1)" font-size="14.6">C</text>
</g>
<g id="panelD">
<rect x="390.70" y="208.50" width="229.30" height="128.70" fill="none" stroke="#484848" stroke-width="0.8"/>
<rect x="398.80" y="333.98" width="1.000" height="3.32" fill="#0000C4"/>
<rect x="399.34" y="234.43" width="1.000" height="102.87" fill="#0010FF"/>
<rect x="399.89" y="302.29" width="1.000" height="35.01" fill="#1030FF"/>
<rect x="400.44" y="324.33" width="1.000" height="12.97" fill="#1840FF"/>
<rect x="400.98" y="325.94" width="1.000" height="11.36" fill="#2050FF"/>
<rect x="401.53" y="325.94" width="1.000" height="11.36" fill="#3C8CF8"/>
<rect x="402.07" y="323.36" width="1.000" height="13.94" fill="#58E0FF"/>
<rect x="402.62" y="324.33" width="1.000" height="12.97" fill="#60F0E8"/>
<rect x="403.17" y="325.94" width="1.000" height="11.36" fill="#68F8B0"/>
<rect x="403.71" y="325.62" width="1.000" height="11.68" fill="#70FF60"/>
<rect x="404.26" y="327.55" width="1.000" height="9.75" fill="#88FF40"/>
<rect x="404.80" y="325.94" width="1.000" height="11.36" fill="#B0FF20"/>
<rect x="405.35" y="327.55" width="1.000" height="9.75" fill="#E8FF10"/>
<rect x="405.90" y="330.76" width="1.000" height="6.53" fill="#FFE010"/>
<rect x="406.44" y="327.55" width="1.000" height="9.75" fill="#FF9810"/>
<rect x="406.99" y="318.09" width="1.000" height="19.21" fill="#FF5800"/>
<rect x="407.53" y="327.55" width="1.000" height="9.75" fill="#FF2800"/>
<rect x="408.08" y="329.16" width="1.000" height="8.14" fill="#FF1010"/>
<rect x="408.63" y="330.76" width="1.000" height="6.53" fill="#E80808"/>
<rect x="409.17" y="335.59" width="1.000" height="1.71" fill="#B00808"/>
<rect x="413.13" y="333.87" width="1.000" height="3.43" fill="#0000C4"/>
<rect x="413.68" y="260.78" width="1.000" height="76.52" fill="#0010FF"/>
<rect x="414.22" y="308.44" width="1.000" height="28.86" fill="#1030FF"/>
<rect x="414.77" y="322.92" width="1.000" height="14.38" fill="#1840FF"/>
<rect x="415.31" y="324.13" width="1.000" height="13.17" fill="#2050FF"/>
<rect x="415.86" y="324.65" width="1.000" height="12.65" fill="#3C8CF8"/>
<rect x="416.41" y="323.43" width="1.000" height="13.87" fill="#58E0FF"/>
<rect x="416.95" y="321.11" width="1.000" height="16.19" fill="#60F0E8"/>
<rect x="417.50" y="321.11" width="1.000" height="16.19" fill="#68F8B0"/>
<rect x="418.04" y="325.41" width="1.000" height="11.89" fill="#70FF60"/>
<rect x="418.59" y="327.66" width="1.000" height="9.64" fill="#88FF40"/>
<rect x="419.14" y="315.80" width="1.000" height="21.50" fill="#B0FF20"/>
<rect x="419.68" y="322.72" width="1.000" height="14.58" fill="#E8FF10"/>
<rect x="420.23" y="330.65" width="1.000" height="6.65" fill="#FFE010"/>
<rect x="420.77" y="327.20" width="1.000" height="10.10" fill="#FF9810"/>
<rect x="421.32" y="317.25" width="1.000" height="20.05" fill="#FF5800"/>
<rect x="421.87" y="326.34" width="1.000" height="10.96" fill="#FF2800"/>
<rect x="422.41" y="328.93" width="1.000" height="8.37" fill="#FF1010"/>
<rect x="422.96" y="330.54" width="1.000" height="6.76" fill="#E80808"/>
<rect x="423.50" y="335.48" width="1.000" height="1.82" fill="#B00808"/>
<rect x="424.05" y="336.64" width="1.000" height="0.66" fill="#780000"/>
<rect x="427.46" y="333.75" width="1.000" height="3.55" fill="#0000C4"/>
<rect x="428.01" y="273.91" width="1.000" height="63.39" fill="#0010FF"/>
<rect x="428.55" y="311.14" width="1.000" height="26.16" fill="#1030FF"/>
<rect x="429.10" y="321.51" width="1.000" height="15.79" fill="#1840FF"/>
<rect x="429.65" y="322.32" width="1.000" height="14.98" fill="#2050FF"/>
<rect x="430.19" y="323.36" width="1.000" height="13.94" fill="#3C8CF8"/>
<rect x="430.74" y="323.50" width="1.000" height="13.80" fill="#58E0FF"/>
<rect x="431.28" y="319.50" width="1.000" height="17.80" fill="#60F0E8"/>
<rect x="431.83" y="317.25" width="1.000" height="20.05" fill="#68F8B0"/>
<rect x="432.37" y="325.20" width="1.000" height="12.10" fill="#70FF60"/>
<rect x="432.92" y="327.78" width="1.000" height="9.52" fill="#88FF40"/>
<rect x="433.47" y="307.60" width="1.000" height="29.70" fill="#B0FF20"/>
<rect x="434.01" y="319.50" width="1.000" height="17.80" fill="#E8FF10"/>
<rect x="434.56" y="330.54" width="1.000" height="6.76" fill="#FFE010"/>
<rect x="435.10" y="326.86" width="1.000" height="10.44" fill="#FF9810"/>
<rect x="435.65" y="316.77" width="1.000" height="20.53" fill="#FF5800"/>
<rect x="436.20" y="325.13" width="1.000" height="12.17" fill="#FF2800"/>
<rect x="436.74" y="328.70" width="1.000" height="8.60" fill="#FF1010"/>
<rect x="437.29" y="330.31" width="1.000" height="6.99" fill="#E80808"/>
<rect x="437.83" y="335.36" width="1.000" height="1.94" fill="#B00808"/>
<rect x="438.38" y="336.07" width="1.000" height="1.23" fill="#780000"/>
<rect x="441.79" y="333.64" width="1.000" height="3.66" fill="#0000C4"/>
<rect x="442.34" y="278.96" width="1.000" height="58.34" fill="#0010FF"/>
<rect x="442.88" y="312.26" width="1.000" height="25.04" fill="#1030FF"/>
<rect x="443.43" y="320.11" width="1.000" height="17.19" fill="#1840FF"/>
<rect x="443.98" y="320.51" width="1.000" height="16.79" fill="#2050FF"/>
<rect x="444.52" y="322.08" width="1.000" height="15.22" fill="#3C8CF8"/>
<rect x="445.07" y="323.57" width="1.000" height="13.73" fill="#58E0FF"/>
<rect x="445.61" y="319.58" width="1.000" height="17.72" fill="#60F0E8"/>
<rect x="446.16" y="317.25" width="1.000" height="20.05" fill="#68F8B0"/>
<rect x="446.71" y="325.00" width="1.000" height="12.30" fill="#70FF60"/>
<rect x="447.25" y="327.89" width="1.000" height="9.41" fill="#88FF40"/>
<rect x="447.80" y="309.66" width="1.000" height="27.64" fill="#B0FF20"/>
<rect x="448.34" y="318.86" width="1.000" height="18.44" fill="#E8FF10"/>
<rect x="448.89" y="330.42" width="1.000" height="6.88" fill="#FFE010"/>
<rect x="449.44" y="326.51" width="1.000" height="10.79" fill="#FF9810"/>
<rect x="449.98" y="316.29" width="1.000" height="21.01" fill="#FF5800"/>
<rect x="450.53" y="323.93" width="1.000" height="13.37" fill="#FF2800"/>
<rect x="451.07" y="328.47" width="1.000" height="8.83" fill="#FF1010"/>
<rect x="451.62" y="330.08" width="1.000" height="7.22" fill="#E80808"/>
<rect x="452.17" y="335.25" width="1.000" height="2.05" fill="#B00808"/>
<rect x="452.71" y="335.51" width="1.000" height="1.79" fill="#780000"/>
<rect x="456.12" y="333.52" width="1.000" height="3.78" fill="#0000C4"/>
<rect x="456.67" y="283.47" width="1.000" height="53.83" fill="#0010FF"/>
<rect x="457.22" y="312.26" width="1.000" height="25.04" fill="#1030FF"/>
<rect x="457.76" y="318.70" width="1.000" height="18.60" fill="#1840FF"/>
<rect x="458.31" y="318.70" width="1.000" height="18.60" fill="#2050FF"/>
<rect x="458.85" y="320.79" width="1.000" height="16.51" fill="#3C8CF8"/>
<rect x="459.40" y="323.64" width="1.000" height="13.66" fill="#58E0FF"/>
<rect x="459.95" y="319.66" width="1.000" height="17.64" fill="#60F0E8"/>
<rect x="460.49" y="317.25" width="1.000" height="20.05" fill="#68F8B0"/>
<rect x="461.04" y="324.79" width="1.000" height="12.51" fill="#70FF60"/>
<rect x="461.58" y="328.01" width="1.000" height="9.29" fill="#88FF40"/>
<rect x="462.13" y="309.92" width="1.000" height="27.38" fill="#B0FF20"/>
<rect x="462.68" y="318.22" width="1.000" height="19.08" fill="#E8FF10"/>
<rect x="463.22" y="330.31" width="1.000" height="6.99" fill="#FFE010"/>
<rect x="463.77" y="326.17" width="1.000" height="11.13" fill="#FF9810"/>
<rect x="464.31" y="315.80" width="1.000" height="21.50" fill="#FF5800"/>
<rect x="464.86" y="322.72" width="1.000" height="14.58" fill="#FF2800"/>
<rect x="465.40" y="328.24" width="1.000" height="9.06" fill="#FF1010"/>
<rect x="465.95" y="329.85" width="1.000" height="7.45" fill="#E80808"/>
<rect x="466.50" y="335.13" width="1.000" height="2.17" fill="#B00808"/>
<rect x="467.04" y="334.95" width="1.000" height="2.35" fill="#780000"/>
<rect x="470.45" y="333.41" width="1.000" height="3.89" fill="#0000C4"/>
<rect x="471.00" y="286.49" width="1.000" height="50.81" fill="#0010FF"/>
<rect x="471.55" y="312.26" width="1.000" height="25.04" fill="#1030FF"/>
<rect x="472.09" y="318.62" width="1.000" height="18.68" fill="#1840FF"/>
<rect x="472.64" y="318.46" width="1.000" height="18.84" fill="#2050FF"/>
<rect x="473.18" y="320.34" width="1.000" height="16.96" fill="#3C8CF8"/>
<rect x="473.73" y="323.71" width="1.000" height="13.59" fill="#58E0FF"/>
<rect x="474.28" y="319.75" width="1.000" height="17.55" fill="#60F0E8"/>
<rect x="474.82" y="317.25" width="1.000" height="20.05" fill="#68F8B0"/>
<rect x="475.37" y="324.58" width="1.000" height="12.72" fill="#70FF60"/>
<rect x="475.91" y="328.12" width="1.000" height="9.18" fill="#88FF40"/>
<rect x="476.46" y="310.17" width="1.000" height="27.13" fill="#B0FF20"/>
<rect x="477.01" y="318.18" width="1.000" height="19.12" fill="#E8FF10"/>
<rect x="477.55" y="330.19" width="1.000" height="7.11" fill="#FFE010"/>
<rect x="478.10" y="325.82" width="1.000" height="11.48" fill="#FF9810"/>
<rect x="478.64" y="315.72" width="1.000" height="21.58" fill="#FF5800"/>
<rect x="479.19" y="322.50" width="1.000" height="14.80" fill="#FF2800"/>
<rect x="479.74" y="328.01" width="1.000" height="9.29" fill="#FF1010"/>
<rect x="480.28" y="329.62" width="1.000" height="7.68" fill="#E80808"/>
<rect x="480.83" y="335.02" width="1.000" height="2.28" fill="#B00808"/>
<rect x="481.37" y="334.38" width="1.000" height="2.92" fill="#780000"/>
<rect x="484.79" y="333.29" width="1.000" height="4.01" fill="#0000C4"/>
<rect x="485.33" y="288.78" width="1.000" height="48.52" fill="#0010FF"/>
<rect x="485.88" y="312.26" width="1.000" height="25.04" fill="#1030FF"/>
<rect x="486.42" y="318.54" width="1.000" height="18.76" fill="#1840FF"/>
<rect x="486.97" y="318.22" width="1.000" height="19.08" fill="#2050FF"/>
<rect x="487.52" y="319.89" width="1.000" height="17.41" fill="#3C8CF8"/>
<rect x="488.06" y="323.78" width="1.000" height="13.52" fill="#58E0FF"/>
<rect x="488.61" y="319.83" width="1.000" height="17.47" fill="#60F0E8"/>
<rect x="489.15" y="317.25" width="1.000" height="20.05" fill="#68F8B0"/>
<rect x="489.70" y="324.38" width="1.000" height="12.92" fill="#70FF60"/>
<rect x="490.25" y="328.24" width="1.000" height="9.06" fill="#88FF40"/>
<rect x="490.79" y="311.14" width="1.000" height="26.16" fill="#B0FF20"/>
<rect x="491.34" y="318.15" width="1.000" height="19.15" fill="#E8FF10"/>
<rect x="491.88" y="330.08" width="1.000" height="7.22" fill="#FFE010"/>
<rect x="492.43" y="325.48" width="1.000" height="11.82" fill="#FF9810"/>
<rect x="492.98" y="315.63" width="1.000" height="21.67" fill="#FF5800"/>
<rect x="493.52" y="322.27" width="1.000" height="15.03" fill="#FF2800"/>
<rect x="494.07" y="327.78" width="1.000" height="9.52" fill="#FF1010"/>
<rect x="494.61" y="329.39" width="1.000" height="7.91" fill="#E80808"/>
<rect x="495.16" y="334.90" width="1.000" height="2.40" fill="#B00808"/>
<rect x="495.71" y="333.82" width="1.000" height="3.48" fill="#780000"/>
<rect x="499.12" y="333.18" width="1.000" height="4.12" fill="#0000C4"/>
<rect x="499.66" y="290.55" width="1.000" height="46.75" fill="#0010FF"/>
<rect x="500.21" y="312.26" width="1.000" height="25.04" fill="#1030FF"/>
<rect x="500.76" y="318.46" width="1.000" height="18.84" fill="#1840FF"/>
<rect x="501.30" y="317.98" width="1.000" height="19.32" fill="#2050FF"/>
<rect x="501.85" y="319.44" width="1.000" height="17.86" fill="#3C8CF8"/>
<rect x="502.39" y="323.85" width="1.000" height="13.45" fill="#58E0FF"/>
<rect x="502.94" y="319.91" width="1.000" height="17.39" fill="#60F0E8"/>
<rect x="503.49" y="317.25" width="1.000" height="20.05" fill="#68F8B0"/>
<rect x="504.03" y="324.17" width="1.000" height="13.13" fill="#70FF60"/>
<rect x="504.58" y="328.35" width="1.000" height="8.95" fill="#88FF40"/>
<rect x="505.12" y="312.26" width="1.000" height="25.04" fill="#B0FF20"/>
<rect x="505.67" y="318.12" width="1.000" height="19.18" fill="#E8FF10"/>
<rect x="506.21" y="329.96" width="1.000" height="7.34" fill="#FFE010"/>
<rect x="506.76" y="325.13" width="1.000" height="12.17" fill="#FF9810"/>
<rect x="507.31" y="315.54" width="1.000" height="21.76" fill="#FF5800"/>
<rect x="507.85" y="322.05" width="1.000" height="15.25" fill="#FF2800"/>
<rect x="508.40" y="327.55" width="1.000" height="9.75" fill="#FF1010"/>
<rect x="508.94" y="329.16" width="1.000" height="8.14" fill="#E80808"/>
<rect x="509.49" y="334.79" width="1.000" height="2.51" fill="#B00808"/>
<rect x="510.04" y="333.26" width="1.000" height="4.04" fill="#780000"/>
<rect x="513.45" y="333.06" width="1.000" height="4.24" fill="#0000C4"/>
<rect x="513.99" y="291.77" width="1.000" height="45.53" fill="#0010FF"/>
<rect x="514.54" y="312.26" width="1.000" height="25.04" fill="#1030FF"/>
<rect x="515.09" y="318.38" width="1.000" height="18.92" fill="#1840FF"/>
<rect x="515.63" y="317.73" width="1.000" height="19.57" fill="#2050FF"/>
<rect x="516.18" y="318.99" width="1.000" height="18.31" fill="#3C8CF8"/>
<rect x="516.72" y="323.92" width="1.000" height="13.38" fill="#58E0FF"/>
<rect x="517.27" y="319.99" width="1.000" height="17.31" fill="#60F0E8"/>
<rect x="517.82" y="317.25" width="1.000" height="20.05" fill="#68F8B0"/>
<rect x="518.36" y="323.96" width="1.000" height="13.34" fill="#70FF60"/>
<rect x="518.91" y="328.47" width="1.000" height="8.83" fill="#88FF40"/>
<rect x="519.45" y="312.84" width="1.000" height="24.46" fill="#B0FF20"/>
<rect x="520.00" y="318.09" width="1.000" height="19.21" fill="#E8FF10"/>
<rect x="520.55" y="329.85" width="1.000" height="7.45" fill="#FFE010"/>
<rect x="521.09" y="324.79" width="1.000" height="12.51" fill="#FF9810"/>
<rect x="521.64" y="315.45" width="1.000" height="21.85" fill="#FF5800"/>
<rect x="522.18" y="321.82" width="1.000" height="15.48" fill="#FF2800"/>
<rect x="522.73" y="327.32" width="1.000" height="9.98" fill="#FF1010"/>
<rect x="523.28" y="328.93" width="1.000" height="8.37" fill="#E80808"/>
<rect x="523.82" y="334.67" width="1.000" height="2.63" fill="#B00808"/>
<rect x="524.37" y="332.70" width="1.000" height="4.60" fill="#780000"/>
<rect x="527.78" y="332.95" width="1.000" height="4.35" fill="#0000C4"/>
<rect x="528.33" y="292.64" width="1.000" height="44.66" fill="#0010FF"/>
<rect x="528.87" y="312.26" width="1.000" height="25.04" fill="#1030FF"/>
<rect x="529.42" y="318.30" width="1.000" height="19.00" fill="#1840FF"/>
<rect x="529.96" y="317.49" width="1.000" height="19.81" fill="#2050FF"/>
<rect x="530.51" y="318.54" width="1.000" height="18.76" fill="#3C8CF8"/>
<rect x="531.06" y="323.99" width="1.000" height="13.31" fill="#58E0FF"/>
<rect x="531.60" y="320.07" width="1.000" height="17.23" fill="#60F0E8"/>
<rect x="532.15" y="317.25" width="1.000" height="20.05" fill="#68F8B0"/>
<rect x="532.69" y="323.76" width="1.000" height="13.54" fill="#70FF60"/>
<rect x="533.24" y="328.58" width="1.000" height="8.72" fill="#88FF40"/>
<rect x="533.79" y="313.04" width="1.000" height="24.26" fill="#B0FF20"/>
<rect x="534.33" y="318.06" width="1.000" height="19.24" fill="#E8FF10"/>
<rect x="534.88" y="329.73" width="1.000" height="7.57" fill="#FFE010"/>
<rect x="535.42" y="324.44" width="1.000" height="12.86" fill="#FF9810"/>
<rect x="535.97" y="315.32" width="1.000" height="21.98" fill="#FF5800"/>
<rect x="536.52" y="321.60" width="1.000" height="15.70" fill="#FF2800"/>
<rect x="537.06" y="327.09" width="1.000" height="10.21" fill="#FF1010"/>
<rect x="537.61" y="328.70" width="1.000" height="8.60" fill="#E80808"/>
<rect x="538.15" y="334.56" width="1.000" height="2.74" fill="#B00808"/>
<rect x="538.70" y="331.81" width="1.000" height="5.49" fill="#780000"/>
<rect x="542.11" y="332.83" width="1.000" height="4.47" fill="#0000C4"/>
<rect x="542.66" y="293.51" width="1.000" height="43.79" fill="#0010FF"/>
<rect x="543.20" y="312.26" width="1.000" height="25.04" fill="#1030FF"/>
<rect x="543.75" y="318.22" width="1.000" height="19.08" fill="#1840FF"/>
<rect x="544.30" y="317.25" width="1.000" height="20.05" fill="#2050FF"/>
<rect x="544.84" y="318.09" width="1.000" height="19.21" fill="#3C8CF8"/>
<rect x="545.39" y="324.05" width="1.000" height="13.25" fill="#58E0FF"/>
<rect x="545.93" y="320.15" width="1.000" height="17.15" fill="#60F0E8"/>
<rect x="546.48" y="317.25" width="1.000" height="20.05" fill="#68F8B0"/>
<rect x="547.02" y="323.55" width="1.000" height="13.75" fill="#70FF60"/>
<rect x="547.57" y="328.70" width="1.000" height="8.60" fill="#88FF40"/>
<rect x="548.12" y="313.24" width="1.000" height="24.06" fill="#B0FF20"/>
<rect x="548.66" y="318.02" width="1.000" height="19.28" fill="#E8FF10"/>
<rect x="549.21" y="329.62" width="1.000" height="7.68" fill="#FFE010"/>
<rect x="549.75" y="324.10" width="1.000" height="13.20" fill="#FF9810"/>
<rect x="550.30" y="315.19" width="1.000" height="22.11" fill="#FF5800"/>
<rect x="550.85" y="321.37" width="1.000" height="15.93" fill="#FF2800"/>
<rect x="551.39" y="326.86" width="1.000" height="10.44" fill="#FF1010"/>
<rect x="551.94" y="328.47" width="1.000" height="8.83" fill="#E80808"/>
<rect x="552.48" y="334.44" width="1.000" height="2.86" fill="#B00808"/>
<rect x="553.03" y="330.93" width="1.000" height="6.37" fill="#780000"/>
<rect x="556.44" y="332.72" width="1.000" height="4.58" fill="#0000C4"/>
<rect x="556.99" y="294.41" width="1.000" height="42.89" fill="#0010FF"/>
<rect x="557.53" y="312.26" width="1.000" height="25.04" fill="#1030FF"/>
<rect x="558.08" y="318.14" width="1.000" height="19.16" fill="#1840FF"/>
<rect x="558.63" y="317.01" width="1.000" height="20.29" fill="#2050FF"/>
<rect x="559.17" y="317.64" width="1.000" height="19.66" fill="#3C8CF8"/>
<rect x="559.72" y="324.12" width="1.000" height="13.18" fill="#58E0FF"/>
<rect x="560.26" y="320.23" width="1.000" height="17.07" fill="#60F0E8"/>
<rect x="560.81" y="317.25" width="1.000" height="20.05" fill="#68F8B0"/>
<rect x="561.36" y="323.34" width="1.000" height="13.96" fill="#70FF60"/>
<rect x="561.90" y="328.81" width="1.000" height="8.49" fill="#88FF40"/>
<rect x="562.45" y="313.44" width="1.000" height="23.86" fill="#B0FF20"/>
<rect x="562.99" y="317.99" width="1.000" height="19.31" fill="#E8FF10"/>
<rect x="563.54" y="329.50" width="1.000" height="7.80" fill="#FFE010"/>
<rect x="564.09" y="323.76" width="1.000" height="13.54" fill="#FF9810"/>
<rect x="564.63" y="315.06" width="1.000" height="22.24" fill="#FF5800"/>
<rect x="565.18" y="321.14" width="1.000" height="16.16" fill="#FF2800"/>
<rect x="565.72" y="326.63" width="1.000" height="10.67" fill="#FF1010"/>
<rect x="566.27" y="328.24" width="1.000" height="9.06" fill="#E80808"/>
<rect x="566.82" y="334.33" width="1.000" height="2.97" fill="#B00808"/>
<rect x="567.36" y="330.04" width="1.000" height="7.26" fill="#780000"/>
<rect x="570.77" y="332.60" width="1.000" height="4.70" fill="#0000C4"/>
<rect x="571.32" y="295.28" width="1.000" height="42.02" fill="#0010FF"/>
<rect x="571.87" y="312.26" width="1.000" height="25.04" fill="#1030FF"/>
<rect x="572.41" y="318.06" width="1.000" height="19.24" fill="#1840FF"/>
<rect x="572.96" y="316.77" width="1.000" height="20.53" fill="#2050FF"/>
<rect x="573.50" y="317.19" width="1.000" height="20.11" fill="#3C8CF8"/>
<rect x="574.05" y="324.19" width="1.000" height="13.11" fill="#58E0FF"/>
<rect x="574.60" y="320.31" width="1.000" height="16.99" fill="#60F0E8"/>
<rect x="575.14" y="317.25" width="1.000" height="20.05" fill="#68F8B0"/>
<rect x="575.69" y="323.13" width="1.000" height="14.17" fill="#70FF60"/>
<rect x="576.23" y="328.93" width="1.000" height="8.37" fill="#88FF40"/>
<rect x="576.78" y="313.64" width="1.000" height="23.66" fill="#B0FF20"/>
<rect x="577.33" y="317.96" width="1.000" height="19.34" fill="#E8FF10"/>
<rect x="577.87" y="329.39" width="1.000" height="7.91" fill="#FFE010"/>
<rect x="578.42" y="323.41" width="1.000" height="13.89" fill="#FF9810"/>
<rect x="578.96" y="314.93" width="1.000" height="22.37" fill="#FF5800"/>
<rect x="579.51" y="320.92" width="1.000" height="16.38" fill="#FF2800"/>
<rect x="580.05" y="326.40" width="1.000" height="10.90" fill="#FF1010"/>
<rect x="580.60" y="328.01" width="1.000" height="9.29" fill="#E80808"/>
<rect x="581.15" y="334.21" width="1.000" height="3.09" fill="#B00808"/>
<rect x="581.69" y="329.16" width="1.000" height="8.14" fill="#780000"/>
<rect x="585.11" y="332.49" width="1.000" height="4.81" fill="#0000C4"/>
<rect x="585.65" y="296.14" width="1.000" height="41.16" fill="#0010FF"/>
<rect x="586.20" y="312.26" width="1.000" height="25.04" fill="#1030FF"/>
<rect x="586.74" y="317.98" width="1.000" height="19.32" fill="#1840FF"/>
<rect x="587.29" y="316.53" width="1.000" height="20.77" fill="#2050FF"/>
<rect x="587.83" y="316.74" width="1.000" height="20.56" fill="#3C8CF8"/>
<rect x="588.38" y="324.26" width="1.000" height="13.04" fill="#58E0FF"/>
<rect x="588.93" y="320.39" width="1.000" height="16.91" fill="#60F0E8"/>
<rect x="589.47" y="317.25" width="1.000" height="20.05" fill="#68F8B0"/>
<rect x="590.02" y="322.93" width="1.000" height="14.37" fill="#70FF60"/>
<rect x="590.56" y="329.04" width="1.000" height="8.26" fill="#88FF40"/>
<rect x="591.11" y="313.84" width="1.000" height="23.46" fill="#B0FF20"/>
<rect x="591.66" y="317.93" width="1.000" height="19.37" fill="#E8FF10"/>
<rect x="592.20" y="329.27" width="1.000" height="8.03" fill="#FFE010"/>
<rect x="592.75" y="323.07" width="1.000" height="14.23" fill="#FF9810"/>
<rect x="593.29" y="314.81" width="1.000" height="22.49" fill="#FF5800"/>
<rect x="593.84" y="320.69" width="1.000" height="16.61" fill="#FF2800"/>
<rect x="594.39" y="326.17" width="1.000" height="11.13" fill="#FF1010"/>
<rect x="594.93" y="327.78" width="1.000" height="9.52" fill="#E80808"/>
<rect x="595.48" y="334.10" width="1.000" height="3.20" fill="#B00808"/>
<rect x="596.02" y="328.27" width="1.000" height="9.03" fill="#780000"/>
<rect x="599.44" y="332.37" width="1.000" height="4.93" fill="#0000C4"/>
<rect x="599.98" y="296.98" width="1.000" height="40.32" fill="#0010FF"/>
<rect x="600.53" y="312.26" width="1.000" height="25.04" fill="#1030FF"/>
<rect x="601.07" y="317.89" width="1.000" height="19.40" fill="#1840FF"/>
<rect x="601.62" y="316.29" width="1.000" height="21.01" fill="#2050FF"/>
<rect x="602.17" y="316.29" width="1.000" height="21.01" fill="#3C8CF8"/>
<rect x="602.71" y="324.33" width="1.000" height="12.97" fill="#58E0FF"/>
<rect x="603.26" y="320.47" width="1.000" height="16.83" fill="#60F0E8"/>
<rect x="603.80" y="317.25" width="1.000" height="20.05" fill="#68F8B0"/>
<rect x="604.35" y="322.72" width="1.000" height="14.58" fill="#70FF60"/>
<rect x="604.90" y="329.16" width="1.000" height="8.14" fill="#88FF40"/>
<rect x="605.44" y="314.03" width="1.000" height="23.27" fill="#B0FF20"/>
<rect x="605.99" y="317.89" width="1.000" height="19.40" fill="#E8FF10"/>
<rect x="606.53" y="329.16" width="1.000" height="8.14" fill="#FFE010"/>
<rect x="607.08" y="322.72" width="1.000" height="14.58" fill="#FF9810"/>
<rect x="607.63" y="314.68" width="1.000" height="22.62" fill="#FF5800"/>
<rect x="608.17" y="320.47" width="1.000" height="16.83" fill="#FF2800"/>
<rect x="608.72" y="325.94" width="1.000" height="11.36" fill="#FF1010"/>
<rect x="609.26" y="327.55" width="1.000" height="9.75" fill="#E80808"/>
<rect x="609.81" y="333.98" width="1.000" height="3.32" fill="#B00808"/>
<rect x="610.36" y="327.39" width="1.000" height="9.91" fill="#780000"/>
<path d="M405.03 337.20v-2.2M405.03 208.50v2.2M419.36 337.20v-2.2M419.36 208.50v2.2M433.69 337.20v-2.2M433.69 208.50v2.2M448.02 337.20v-2.2M448.02 208.50v2.2M462.36 337.20v-2.2M462.36 208.50v2.2M476.69 337.20v-2.2M476.69 208.50v2.2M491.02 337.20v-2.2M491.02 208.50v2.2M505.35 337.20v-2.2M505.35 208.50v2.2M519.68 337.20v-2.2M519.68 208.50v2.2M534.01 337.20v-2.2M534.01 208.50v2.2M548.34 337.20v-2.2M548.34 208.50v2.2M562.67 337.20v-2.2M562.67 208.50v2.2M577.01 337.20v-2.2M577.01 208.50v2.2M591.34 337.20v-2.2M591.34 208.50v2.2M605.67 337.20v-2.2M605.67 208.50v2.2M390.70 337.20h2.2M620.00 337.20h-2.2M390.70 321.11h2.2M620.00 321.11h-2.2M390.70 305.02h2.2M620.00 305.02h-2.2M390.70 288.94h2.2M620.00 288.94h-2.2M390.70 272.85h2.2M620.00 272.85h-2.2M390.70 256.76h2.2M620.00 256.76h-2.2M390.70 240.68h2.2M620.00 240.68h-2.2M390.70 224.59h2.2M620.00 224.59h-2.2M390.70 208.50h2.2M620.00 208.50h-2.2" stroke="#484848" stroke-width="0.8" fill="none"/>
<text transform="translate(388.40 339.25) scale(0.9 1)" font-size="6.9" text-anchor="end">0</text>
<text transform="translate(388.40 323.16) scale(0.9 1)" font-size="6.9" text-anchor="end">0.05</text>
<text transform="translate(388.40 307.07) scale(0.9 1)" font-size="6.9" text-anchor="end">0.1</text>
<text transform="translate(388.40 290.99) scale(0.9 1)" font-size="6.9" text-anchor="end">0.15</text>
<text transform="translate(388.40 274.90) scale(0.9 1)" font-size="6.9" text-anchor="end">0.2</text>
<text transform="translate(388.40 258.81) scale(0.9 1)" font-size="6.9" text-anchor="end">0.25</text>
<text transform="translate(388.40 242.73) scale(0.9 1)" font-size="6.9" text-anchor="end">0.3</text>
<text transform="translate(388.40 226.64) scale(0.9 1)" font-size="6.9" text-anchor="end">0.35</text>
<text transform="translate(388.40 210.55) scale(0.9 1)" font-size="6.9" text-anchor="end">0.4</text>
<text transform="translate(404.93 344.50) scale(0.88 1)" font-size="6.7" text-anchor="middle">1</text>
<text transform="translate(419.26 344.50) scale(0.88 1)" font-size="6.7" text-anchor="middle">2</text>
<text transform="translate(433.59 344.50) scale(0.88 1)" font-size="6.7" text-anchor="middle">3</text>
<text transform="translate(447.92 344.50) scale(0.88 1)" font-size="6.7" text-anchor="middle">4</text>
<text transform="translate(462.26 344.50) scale(0.88 1)" font-size="6.7" text-anchor="middle">5</text>
<text transform="translate(476.59 344.50) scale(0.88 1)" font-size="6.7" text-anchor="middle">6</text>
<text transform="translate(490.92 344.50) scale(0.88 1)" font-size="6.7" text-anchor="middle">7</text>
<text transform="translate(505.25 344.50) scale(0.88 1)" font-size="6.7" text-anchor="middle">8</text>
<text transform="translate(519.58 344.50) scale(0.88 1)" font-size="6.7" text-anchor="middle">9</text>
<text transform="translate(533.91 344.50) scale(0.88 1)" font-size="6.7" text-anchor="middle">10</text>
<text transform="translate(548.24 344.50) scale(0.88 1)" font-size="6.7" text-anchor="middle">11</text>
<text transform="translate(562.57 344.50) scale(0.88 1)" font-size="6.7" text-anchor="middle">12</text>
<text transform="translate(576.91 344.50) scale(0.88 1)" font-size="6.7" text-anchor="middle">13</text>
<text transform="translate(591.24 344.50) scale(0.88 1)" font-size="6.7" text-anchor="middle">14</text>
<text transform="translate(605.57 344.50) scale(0.88 1)" font-size="6.7" text-anchor="middle">15</text>
<text x="506.2" y="202.65" font-size="6.4" text-anchor="middle">CDC2 neg</text>
<text class="ser" transform="translate(372.7 191.6) scale(0.70 1)" font-size="14.6">D</text>
</g>
<g id="legend"><rect x="334.7" y="84.4" width="33.5" height="188.3" fill="#fff" stroke="#9a9a9a" stroke-width="0.9"/>
<rect x="338.1" y="86.90" width="18.9" height="6.2" fill="#0000C4"/>
<text transform="translate(359.3 91.85) scale(0.9 1)" font-size="6.4">C</text>
<rect x="338.1" y="95.77" width="18.9" height="6.2" fill="#0010FF"/>
<text transform="translate(359.3 100.72) scale(0.9 1)" font-size="6.4">S</text>
<rect x="338.1" y="104.63" width="18.9" height="6.2" fill="#1030FF"/>
<text transform="translate(359.3 109.58) scale(0.9 1)" font-size="6.4">T</text>
<rect x="338.1" y="113.50" width="18.9" height="6.2" fill="#1840FF"/>
<text transform="translate(359.3 118.45) scale(0.9 1)" font-size="6.4">P</text>
<rect x="338.1" y="122.36" width="18.9" height="6.2" fill="#2050FF"/>
<text transform="translate(359.3 127.31) scale(0.9 1)" font-size="6.4">A</text>
<rect x="338.1" y="131.22" width="18.9" height="6.2" fill="#3C8CF8"/>
<text transform="translate(359.3 136.17) scale(0.9 1)" font-size="6.4">G</text>
<rect x="338.1" y="140.09" width="18.9" height="6.2" fill="#58E0FF"/>
<text transform="translate(359.3 145.04) scale(0.9 1)" font-size="6.4">N</text>
<rect x="338.1" y="148.95" width="18.9" height="6.2" fill="#60F0E8"/>
<text transform="translate(359.3 153.90) scale(0.9 1)" font-size="6.4">D</text>
<rect x="338.1" y="157.82" width="18.9" height="6.2" fill="#68F8B0"/>
<text transform="translate(359.3 162.77) scale(0.9 1)" font-size="6.4">E</text>
<rect x="338.1" y="166.69" width="18.9" height="6.2" fill="#70FF60"/>
<text transform="translate(359.3 171.63) scale(0.9 1)" font-size="6.4">Q</text>
<rect x="338.1" y="175.55" width="18.9" height="6.2" fill="#88FF40"/>
<text transform="translate(359.3 180.50) scale(0.9 1)" font-size="6.4">H</text>
<rect x="338.1" y="184.41" width="18.9" height="6.2" fill="#B0FF20"/>
<text transform="translate(359.3 189.36) scale(0.9 1)" font-size="6.4">R</text>
<rect x="338.1" y="193.28" width="18.9" height="6.2" fill="#E8FF10"/>
<text transform="translate(359.3 198.23) scale(0.9 1)" font-size="6.4">K</text>
<rect x="338.1" y="202.14" width="18.9" height="6.2" fill="#FFE010"/>
<text transform="translate(359.3 207.09) scale(0.9 1)" font-size="6.4">M</text>
<rect x="338.1" y="211.01" width="18.9" height="6.2" fill="#FF9810"/>
<text transform="translate(359.3 215.96) scale(0.9 1)" font-size="6.4">I</text>
<rect x="338.1" y="219.87" width="18.9" height="6.2" fill="#FF5800"/>
<text transform="translate(359.3 224.82) scale(0.9 1)" font-size="6.4">L</text>
<rect x="338.1" y="228.74" width="18.9" height="6.2" fill="#FF2800"/>
<text transform="translate(359.3 233.69) scale(0.9 1)" font-size="6.4">V</text>
<rect x="338.1" y="237.60" width="18.9" height="6.2" fill="#FF1010"/>
<text transform="translate(359.3 242.55) scale(0.9 1)" font-size="6.4">F</text>
<rect x="338.1" y="246.47" width="18.9" height="6.2" fill="#E80808"/>
<text transform="translate(359.3 251.42) scale(0.9 1)" font-size="6.4">Y</text>
<rect x="338.1" y="255.33" width="18.9" height="6.2" fill="#B00808"/>
<text transform="translate(359.3 260.28) scale(0.9 1)" font-size="6.4">W</text>
<rect x="338.1" y="264.20" width="18.9" height="6.2" fill="#780000"/>
<text transform="translate(359.3 269.15) scale(0.9 1)" font-size="6.4">*</text>
</g>
</g></svg></body></html>
